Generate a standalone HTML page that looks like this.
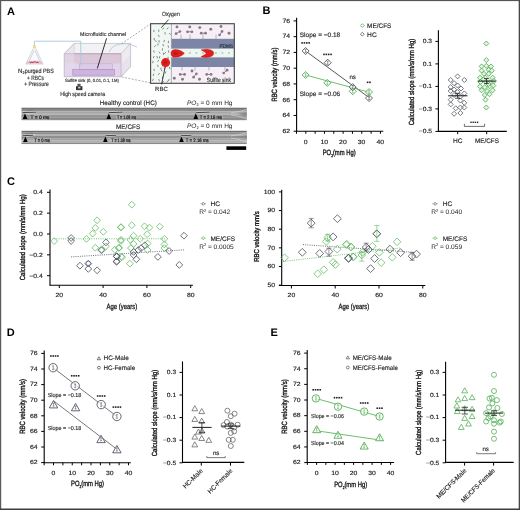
<!DOCTYPE html>
<html><head><meta charset="utf-8"><title>Figure</title>
<style>html,body{margin:0;padding:0;background:#fff;width:520px;height:510px;overflow:hidden}
svg{display:block;font-family:"Liberation Sans", sans-serif;filter:blur(0.4px);text-rendering:geometricPrecision}
svg.ov{position:absolute;left:0;top:0;filter:none}
body{position:relative}</style></head>
<body>
<svg width="520" height="510" viewBox="0 0 520 510" font-family='"Liberation Sans", sans-serif'>
<rect x="0" y="0" width="520" height="510" fill="#fff"/>
<text x="7.00" y="14.56" font-size="11" text-anchor="start" fill="#000" font-weight="bold" >A</text>
<path d="M33.2 49 L25.8 64.3 L43.1 64.3 L35.8 49 Z" fill="#fbfafc" stroke="none"/>
<path d="M27.2 61.2 Q34.4 59.6 41.6 61.2 L43.1 64.4 L25.8 64.4 Z" fill="#f2ccd6"/>
<path d="M29.8 63 q1.6 -1.6 3.2 -0.4 q1.6 -1.6 3.2 -0.2 q1.2 -0.8 2.4 0.4" fill="none" stroke="#b5506c" stroke-width="1.1"/>
<path d="M33.2 48.6 L25.8 64.4 M35.8 48.6 L43.1 64.4 M34.0 50.5 L28.2 63.6 M35.0 50.5 L40.8 63.6" fill="none" stroke="#a9b3c2" stroke-width="0.55"/>
<rect x="32.9" y="45.4" width="3.0" height="3.0" rx="0.6" fill="#f2d48a"/>
<text x="18.10" y="73.23" font-size="6.2" text-anchor="start" fill="#2a2a2a" stroke="#2a2a2a" stroke-width="0.13" >N</text>
<text x="22.40" y="74.17" font-size="3.8" text-anchor="start" fill="#2a2a2a" stroke="#2a2a2a" stroke-width="0.13" >2</text>
<text x="24.80" y="73.23" font-size="6.2" text-anchor="start" fill="#2a2a2a" stroke="#2a2a2a" stroke-width="0.13" textLength="29.0" lengthAdjust="spacingAndGlyphs" >purged PBS</text>
<text x="27.10" y="79.73" font-size="6.2" text-anchor="start" fill="#2a2a2a" stroke="#2a2a2a" stroke-width="0.13" textLength="16.9" lengthAdjust="spacingAndGlyphs" >+ RBCs</text>
<text x="24.20" y="85.83" font-size="6.2" text-anchor="start" fill="#2a2a2a" stroke="#2a2a2a" stroke-width="0.13" textLength="24.5" lengthAdjust="spacingAndGlyphs" >+ Pressure</text>
<path d="M64.2 53.7 L74.3 43.4 L130.6 43.4 L121.1 53.7 Z" fill="#f2f2f4"/>
<path d="M121.1 53.7 L130.6 43.4 L130.6 66.7 L121.1 76.8 Z" fill="#efeaf2"/>
<path d="M121.1 64 L130.6 55 L130.6 66.7 L121.1 76.8 Z" fill="#e9e1ee"/>
<rect x="64.2" y="53.7" width="56.9" height="23.1" fill="#dcc6da"/>
<rect x="64.2" y="63.5" width="56.9" height="13.3" fill="#e2d4ea"/>
<path d="M64.2 53.7 L74.3 43.4 L74.3 66.7 L64.2 76.8 Z" fill="#e6dcea" fill-opacity="0.6"/>
<rect x="79.3" y="63.8" width="33" height="5.8" fill="#dccbe6" stroke="#b9a0cc" stroke-width="0.5"/>
<rect x="72.8" y="69.6" width="41.6" height="5.6" fill="#cdb3de" stroke="#a98cc0" stroke-width="0.6"/>
<path d="M64.2 53.7 L74.3 43.4 L74.3 53.7" fill="none" stroke="#c8c8d0" stroke-width="0.5"/>
<path d="M64.2 53.7 L74.3 43.4 L130.6 43.4 L121.1 53.7 Z M121.1 53.7 L121.1 76.8 L130.6 66.7 L130.6 43.4 M64.2 53.7 L64.2 76.8 L121.1 76.8" fill="none" stroke="#aeaeb8" stroke-width="0.6"/>
<line x1="74.30" y1="53.70" x2="121.10" y2="53.70" stroke="#b79fb4" stroke-width="0.8" />
<path d="M34.4 46 L34.4 41.2 L80.8 41.2 L80.8 65.5" fill="none" stroke="#a6c8da" stroke-width="0.9"/>
<path d="M109.4 52 Q111 45.5 121 43.8 Q128 43.2 131 44.6 Q134 45.8 137 47" fill="none" stroke="#b3cbd8" stroke-width="0.9"/>
<line x1="106.60" y1="38.30" x2="97.30" y2="68.40" stroke="#1a1a1a" stroke-width="0.9" />
<text x="80.10" y="35.78" font-size="5.5" text-anchor="start" fill="#2a2a2a" stroke="#2a2a2a" stroke-width="0.13" textLength="46.0" lengthAdjust="spacingAndGlyphs" >Microfluidic channel</text>
<text x="65.00" y="82.12" font-size="4.5" text-anchor="start" fill="#2a2a2a" stroke="#2a2a2a" stroke-width="0.13" textLength="53.9" lengthAdjust="spacingAndGlyphs" >Sulfite sink (0, 0.01, 0.1, 1M)</text>
<rect x="76.0" y="86.2" width="6.4" height="3.9" fill="#333"/><rect x="77.4" y="83.8" width="3.2" height="2.6" fill="#555"/><rect x="78.2" y="86.9" width="2.2" height="1.6" fill="#ccc"/>
<text x="60.30" y="96.16" font-size="6.0" text-anchor="start" fill="#2a2a2a" stroke="#2a2a2a" stroke-width="0.13" textLength="44.7" lengthAdjust="spacingAndGlyphs" >High speed camera</text>
<line x1="121.60" y1="43.80" x2="150.30" y2="24.00" stroke="#777" stroke-width="0.65" stroke-dasharray="1.8 1.6"/>
<line x1="121.80" y1="77.00" x2="150.30" y2="82.80" stroke="#777" stroke-width="0.65" stroke-dasharray="1.8 1.6"/>
<rect x="150.6" y="23.7" width="83.7" height="59.6" fill="#f6eff6"/>
<rect x="150.6" y="23.7" width="20.8" height="59.6" fill="#f1f8f4"/>
<rect x="171.4" y="38.8" width="62.9" height="10.0" fill="#7c85a5"/>
<rect x="171.4" y="57.2" width="62.9" height="9.8" fill="#7c85a5"/>
<rect x="166.5" y="48.8" width="67.8" height="8.4" fill="#eef6f1"/>
<line x1="171.40" y1="23.70" x2="171.40" y2="48.80" stroke="#8e939c" stroke-width="0.7" />
<line x1="171.40" y1="57.20" x2="171.40" y2="83.30" stroke="#8e939c" stroke-width="0.7" />
<path d="M158.3 34.8 l0.97 2.08" stroke="#7d8c85" stroke-width="1.0"/>
<path d="M154.2 56.0 l-0.97 2.08" stroke="#7d8c85" stroke-width="1.0"/>
<path d="M162.6 76.5 l-0.20 2.29" stroke="#7d8c85" stroke-width="1.0"/>
<path d="M153.6 50.4 l0.60 2.22" stroke="#7d8c85" stroke-width="1.0"/>
<path d="M168.6 61.2 l0.97 2.08" stroke="#7d8c85" stroke-width="1.0"/>
<path d="M162.5 48.3 l-0.20 2.29" stroke="#7d8c85" stroke-width="1.0"/>
<path d="M153.8 73.7 l-0.60 2.22" stroke="#7d8c85" stroke-width="1.0"/>
<path d="M159.9 56.2 l-0.60 2.22" stroke="#7d8c85" stroke-width="1.0"/>
<path d="M162.2 64.0 l0.60 2.22" stroke="#7d8c85" stroke-width="1.0"/>
<path d="M154.0 29.8 l-0.20 2.29" stroke="#7d8c85" stroke-width="1.0"/>
<path d="M165.8 52.1 l-1.48 1.76" stroke="#7d8c85" stroke-width="1.0"/>
<path d="M159.0 40.2 l0.20 2.29" stroke="#7d8c85" stroke-width="1.0"/>
<path d="M164.5 39.9 l-0.60 2.22" stroke="#7d8c85" stroke-width="1.0"/>
<path d="M169.2 33.0 l1.48 1.76" stroke="#7d8c85" stroke-width="1.0"/>
<path d="M155.7 45.3 l-1.48 1.76" stroke="#7d8c85" stroke-width="1.0"/>
<path d="M166.0 71.5 l-0.97 2.08" stroke="#7d8c85" stroke-width="1.0"/>
<path d="M164.5 59.2 l-1.48 1.76" stroke="#7d8c85" stroke-width="1.0"/>
<path d="M157.5 64.8 l0.60 2.22" stroke="#7d8c85" stroke-width="1.0"/>
<path d="M163.7 81.1 l-1.48 1.76" stroke="#7d8c85" stroke-width="1.0"/>
<path d="M164.0 27.7 l-1.48 1.76" stroke="#7d8c85" stroke-width="1.0"/>
<path d="M158.9 60.1 l-1.48 1.76" stroke="#7d8c85" stroke-width="1.0"/>
<path d="M154.0 68.8 l0.20 2.29" stroke="#7d8c85" stroke-width="1.0"/>
<path d="M163.1 44.0 l0.20 2.29" stroke="#7d8c85" stroke-width="1.0"/>
<path d="M154.1 38.0 l0.20 2.29" stroke="#7d8c85" stroke-width="1.0"/>
<path d="M165.4 67.2 l-1.48 1.76" stroke="#7d8c85" stroke-width="1.0"/>
<path d="M153.4 78.8 l-0.97 2.08" stroke="#7d8c85" stroke-width="1.0"/>
<path d="M169.3 79.0 l-0.97 2.08" stroke="#7d8c85" stroke-width="1.0"/>
<path d="M168.0 45.4 l0.60 2.22" stroke="#7d8c85" stroke-width="1.0"/>
<path d="M165.0 32.2 l0.20 2.29" stroke="#7d8c85" stroke-width="1.0"/>
<path d="M158.8 51.7 l1.48 1.76" stroke="#7d8c85" stroke-width="1.0"/>
<path d="M161.0 69.2 l0.97 2.08" stroke="#7d8c85" stroke-width="1.0"/>
<path d="M168.5 40.8 l-0.20 2.29" stroke="#7d8c85" stroke-width="1.0"/>
<path d="M158.1 43.3 l-0.20 2.29" stroke="#7d8c85" stroke-width="1.0"/>
<path d="M158.7 29.5 l0.20 2.29" stroke="#7d8c85" stroke-width="1.0"/>
<path d="M153.2 60.9 l-0.60 2.22" stroke="#7d8c85" stroke-width="1.0"/>
<path d="M161.7 67.5 l-1.48 1.76" stroke="#7d8c85" stroke-width="1.0"/>
<path d="M168.4 27.5 l-1.48 1.76" stroke="#7d8c85" stroke-width="1.0"/>
<path d="M168.0 56.8 l0.20 2.29" stroke="#7d8c85" stroke-width="1.0"/>
<path d="M155.1 40.3 l1.48 1.76" stroke="#7d8c85" stroke-width="1.0"/>
<path d="M158.8 79.1 l0.60 2.22" stroke="#7d8c85" stroke-width="1.0"/>
<path d="M156.9 56.1 l0.60 2.22" stroke="#7d8c85" stroke-width="1.0"/>
<path d="M168.5 50.4 l0.20 2.29" stroke="#7d8c85" stroke-width="1.0"/>
<path d="M159.7 73.0 l-1.48 1.76" stroke="#7d8c85" stroke-width="1.0"/>
<path d="M169.4 66.8 l0.60 2.22" stroke="#7d8c85" stroke-width="1.0"/>
<path d="M163.3 52.6 l0.20 2.29" stroke="#7d8c85" stroke-width="1.0"/>
<path d="M168.2 80.5 l-1.48 1.76" stroke="#7d8c85" stroke-width="1.0"/>
<path d="M176.0 53 l1.8 0" stroke="#72907e" stroke-width="0.75"/>
<path d="M182.5 53 l1.8 0" stroke="#72907e" stroke-width="0.75"/>
<path d="M189.0 53 l1.8 0" stroke="#72907e" stroke-width="0.75"/>
<path d="M195.5 53 l1.8 0" stroke="#72907e" stroke-width="0.75"/>
<path d="M202.0 53 l1.8 0" stroke="#72907e" stroke-width="0.75"/>
<path d="M208.5 53 l1.8 0" stroke="#72907e" stroke-width="0.75"/>
<path d="M215.0 53 l1.8 0" stroke="#72907e" stroke-width="0.75"/>
<path d="M221.5 53 l1.8 0" stroke="#72907e" stroke-width="0.75"/>
<path d="M228.0 53 l1.8 0" stroke="#72907e" stroke-width="0.75"/>
<circle cx="177" cy="26.9" r="1.45" fill="#8c7589"/>
<circle cx="189.8" cy="26.9" r="1.45" fill="#8c7589"/>
<circle cx="199.8" cy="27.6" r="1.45" fill="#8c7589"/>
<circle cx="210.8" cy="29.3" r="1.45" fill="#8c7589"/>
<circle cx="229" cy="33.3" r="1.45" fill="#8c7589"/>
<circle cx="221" cy="26.5" r="1.45" fill="#8c7589"/>
<path d="M176.09 33.70 L179.91 31.50" stroke="#8c7589" stroke-width="0.9"/><circle cx="176.09" cy="33.70" r="1.35" fill="#8c7589"/><circle cx="179.91" cy="31.50" r="1.35" fill="#8c7589"/>
<path d="M187.50 31.80 L191.90 31.80" stroke="#8c7589" stroke-width="0.9"/><circle cx="187.50" cy="31.80" r="1.35" fill="#8c7589"/><circle cx="191.90" cy="31.80" r="1.35" fill="#8c7589"/>
<path d="M201.20 33.20 L205.60 33.20" stroke="#8c7589" stroke-width="0.9"/><circle cx="201.20" cy="33.20" r="1.35" fill="#8c7589"/><circle cx="205.60" cy="33.20" r="1.35" fill="#8c7589"/>
<path d="M219.54 35.00 L222.06 31.40" stroke="#8c7589" stroke-width="0.9"/><circle cx="219.54" cy="35.00" r="1.35" fill="#8c7589"/><circle cx="222.06" cy="31.40" r="1.35" fill="#8c7589"/>
<circle cx="174.3" cy="78.2" r="1.45" fill="#8c7589"/>
<circle cx="182.5" cy="79.2" r="1.45" fill="#8c7589"/>
<circle cx="199.5" cy="79.2" r="1.45" fill="#8c7589"/>
<circle cx="192" cy="71" r="1.45" fill="#8c7589"/>
<path d="M180.20 74.40 L184.60 74.40" stroke="#8c7589" stroke-width="0.9"/><circle cx="180.20" cy="74.40" r="1.35" fill="#8c7589"/><circle cx="184.60" cy="74.40" r="1.35" fill="#8c7589"/>
<path d="M206.70 74.40 L211.10 74.40" stroke="#8c7589" stroke-width="0.9"/><circle cx="206.70" cy="74.40" r="1.35" fill="#8c7589"/><circle cx="211.10" cy="74.40" r="1.35" fill="#8c7589"/>
<path d="M223.71 73.01 L227.09 70.19" stroke="#8c7589" stroke-width="0.9"/><circle cx="223.71" cy="73.01" r="1.35" fill="#8c7589"/><circle cx="227.09" cy="70.19" r="1.35" fill="#8c7589"/>
<path d="M193.59 77.19 L196.41 73.81" stroke="#8c7589" stroke-width="0.9"/><circle cx="193.59" cy="77.19" r="1.35" fill="#8c7589"/><circle cx="196.41" cy="73.81" r="1.35" fill="#8c7589"/>
<path d="M181 34.5 l0 6" stroke="#8e8ea0" stroke-width="0.6"/>
<path d="M190 34.5 l0 6" stroke="#8e8ea0" stroke-width="0.6"/>
<path d="M203 34.5 l0 6" stroke="#8e8ea0" stroke-width="0.6"/>
<path d="M216 34.5 l0 6" stroke="#8e8ea0" stroke-width="0.6"/>
<path d="M182 64.5 l0 6" stroke="#8e8ea0" stroke-width="0.6"/>
<path d="M195 64.5 l0 6" stroke="#8e8ea0" stroke-width="0.6"/>
<path d="M209 64.5 l0 6" stroke="#8e8ea0" stroke-width="0.6"/>
<path d="M225 64.5 l0 6" stroke="#8e8ea0" stroke-width="0.6"/>
<rect x="150.6" y="23.7" width="83.7" height="59.6" fill="none" stroke="#444" stroke-width="1.1"/>
<path d="M174.5 49.6 C179 49.4 182 51.2 184.3 53.4 C182 55.6 179 57.4 174.5 57.2 C171.6 57 171 55 171 53.4 C171 51.6 171.8 49.8 174.5 49.6 Z" fill="#e11f1d" stroke="#b81212" stroke-width="0.4"/>
<ellipse cx="175.5" cy="53.4" rx="2.2" ry="1.8" fill="#c51616"/>
<path d="M201 49.9 C205 48.6 210 49 212.4 50.8 C214.2 52.3 214.2 54.3 212.4 55.8 C210 57.6 205 58 201 56.7 C203.4 55.6 205.4 54.5 206.2 53.3 C205.4 52.1 203.4 51 201 49.9 Z" fill="#e11f1d" stroke="#b81212" stroke-width="0.4"/>
<circle cx="165.6" cy="62.6" r="4.5" fill="#e11f1d"/>
<circle cx="165.3" cy="62.3" r="2.1" fill="#cc1717"/>
<line x1="165.20" y1="66.80" x2="161.60" y2="84.40" stroke="#111" stroke-width="0.8" />
<text x="161.40" y="90.76" font-size="6.0" text-anchor="middle" fill="#2a2a2a" stroke="#2a2a2a" stroke-width="0.13" >RBC</text>
<line x1="168.60" y1="19.60" x2="161.30" y2="27.70" stroke="#111" stroke-width="0.8" />
<text x="161.90" y="16.26" font-size="6.0" text-anchor="start" fill="#2a2a2a" stroke="#2a2a2a" stroke-width="0.13" textLength="17.9" lengthAdjust="spacingAndGlyphs" >Oxygen</text>
<text x="233.00" y="48.24" font-size="5.4" text-anchor="end" fill="#262b40" stroke="#262b40" stroke-width="0.13" textLength="13.6" lengthAdjust="spacingAndGlyphs" >PDMS</text>
<text x="231.00" y="81.56" font-size="6.0" text-anchor="end" fill="#2a2a2a" stroke="#2a2a2a" stroke-width="0.13" textLength="24.2" lengthAdjust="spacingAndGlyphs" >Sulfite sink</text>
<rect x="21.5" y="107.70" width="225.3" height="2.15" fill="#747474"/>
<rect x="21.5" y="109.80" width="225.3" height="1.65" fill="#8e8e8e"/>
<rect x="21.5" y="111.40" width="225.3" height="1.65" fill="#a6a6a6"/>
<rect x="21.5" y="113.00" width="225.3" height="1.75" fill="#b2b2b2"/>
<rect x="21.5" y="114.70" width="225.3" height="2.55" fill="#969696"/>
<rect x="21.5" y="117.20" width="225.3" height="2.05" fill="#8a8a8a"/>
<rect x="21.5" y="119.20" width="225.3" height="0.95" fill="#787878"/>
<path d="M22.5 119.2 Q24.5 111.5 36 111.5" fill="none" stroke="#d6d6d6" stroke-width="0.7"/>
<path d="M22.2 115.7 Q25 109.9 33 109.9" fill="none" stroke="#6a6a6a" stroke-width="0.6"/>
<path d="M246.8 109.5 Q239 111.9 231 112.7" fill="none" stroke="#d3d3d3" stroke-width="0.7"/>
<path d="M246.8 118.7 Q239 115.9 231 114.9" fill="none" stroke="#d3d3d3" stroke-width="0.7"/>
<path d="M246.8 112.2 L238 113.7 L246.8 115.7" fill="#8a8a8a"/>
<rect x="29.4" y="115.3" width="21.2" height="4.4" fill="#b4b4b4" opacity="0.55"/>
<path d="M25.0 113.3 L27.3 119.0 L22.7 119.0 Z" fill="#000"/>
<text x="30.40" y="119.36" font-size="4.9" text-anchor="start" fill="#151515" stroke="#151515" stroke-width="0.2" textLength="19.2" lengthAdjust="spacingAndGlyphs" >T = 0 ms</text>
<path d="M22.5 112.60000000000001 L36.0 112.2" fill="none" stroke="#d8d8d8" stroke-width="2.0"/>
<path d="M22.5 112.60000000000001 L36.0 112.2" fill="none" stroke="#383838" stroke-width="0.9"/>
<rect x="115.9" y="115.3" width="21.4" height="4.4" fill="#b4b4b4" opacity="0.55"/>
<path d="M108.8 113.3 L111.1 119.0 L106.5 119.0 Z" fill="#000"/>
<text x="116.90" y="119.36" font-size="4.9" text-anchor="start" fill="#151515" stroke="#151515" stroke-width="0.2" textLength="19.4" lengthAdjust="spacingAndGlyphs" >T = 1.08 ms</text>
<path d="M109.0 112.60000000000001 L122.5 112.2" fill="none" stroke="#d8d8d8" stroke-width="2.0"/>
<path d="M109.0 112.60000000000001 L122.5 112.2" fill="none" stroke="#383838" stroke-width="0.9"/>
<rect x="198.7" y="115.3" width="24.5" height="4.4" fill="#b4b4b4" opacity="0.55"/>
<path d="M195.8 113.3 L198.1 119.0 L193.5 119.0 Z" fill="#000"/>
<text x="199.70" y="119.36" font-size="4.9" text-anchor="start" fill="#151515" stroke="#151515" stroke-width="0.2" textLength="22.5" lengthAdjust="spacingAndGlyphs" >T = 2.16 ms</text>
<path d="M196.2 112.60000000000001 L209.6 112.2" fill="none" stroke="#d8d8d8" stroke-width="2.0"/>
<path d="M196.2 112.60000000000001 L209.6 112.2" fill="none" stroke="#383838" stroke-width="0.9"/>
<rect x="21.5" y="130.80" width="225.3" height="1.65" fill="#6c6c6c"/>
<rect x="21.5" y="132.40" width="225.3" height="1.65" fill="#8c8c8c"/>
<rect x="21.5" y="134.00" width="225.3" height="1.75" fill="#b2b2b2"/>
<rect x="21.5" y="135.70" width="225.3" height="1.65" fill="#8e8e8e"/>
<rect x="21.5" y="137.30" width="225.3" height="1.25" fill="#747474"/>
<rect x="21.5" y="138.50" width="225.3" height="2.15" fill="#a2a2a2"/>
<rect x="21.5" y="140.60" width="225.3" height="2.05" fill="#b0b0b0"/>
<rect x="21.5" y="142.60" width="225.3" height="1.45" fill="#8a8a8a"/>
<path d="M22.5 142.3 Q24.5 134.60000000000002 36 134.60000000000002" fill="none" stroke="#d6d6d6" stroke-width="0.7"/>
<path d="M22.2 138.8 Q25 133.0 33 133.0" fill="none" stroke="#6a6a6a" stroke-width="0.6"/>
<path d="M246.8 132.60000000000002 Q239 135.0 231 135.8" fill="none" stroke="#d3d3d3" stroke-width="0.7"/>
<path d="M246.8 141.8 Q239 139.0 231 138.0" fill="none" stroke="#d3d3d3" stroke-width="0.7"/>
<path d="M246.8 135.3 L238 136.8 L246.8 138.8" fill="#8a8a8a"/>
<rect x="33.2" y="138.4" width="17.8" height="4.4" fill="#b4b4b4" opacity="0.55"/>
<path d="M25.4 136.4 L27.7 142.10000000000002 L23.1 142.10000000000002 Z" fill="#000"/>
<text x="34.20" y="142.46" font-size="4.9" text-anchor="start" fill="#151515" stroke="#151515" stroke-width="0.2" textLength="15.8" lengthAdjust="spacingAndGlyphs" >T = 0 ms</text>
<path d="M22.5 135.70000000000002 L33.0 135.3" fill="none" stroke="#d8d8d8" stroke-width="2.0"/>
<path d="M22.5 135.70000000000002 L33.0 135.3" fill="none" stroke="#383838" stroke-width="0.9"/>
<rect x="110.2" y="138.4" width="21.5" height="4.4" fill="#b4b4b4" opacity="0.55"/>
<path d="M105.4 136.4 L107.7 142.10000000000002 L103.1 142.10000000000002 Z" fill="#000"/>
<text x="111.20" y="142.46" font-size="4.9" text-anchor="start" fill="#151515" stroke="#151515" stroke-width="0.2" textLength="19.5" lengthAdjust="spacingAndGlyphs" >T = 1.08 ms</text>
<path d="M105.6 135.70000000000002 L116.0 135.3" fill="none" stroke="#d8d8d8" stroke-width="2.0"/>
<path d="M105.6 135.70000000000002 L116.0 135.3" fill="none" stroke="#383838" stroke-width="0.9"/>
<rect x="184.8" y="138.4" width="24.9" height="4.4" fill="#b4b4b4" opacity="0.55"/>
<path d="M181.5 136.4 L183.8 142.10000000000002 L179.2 142.10000000000002 Z" fill="#000"/>
<text x="185.80" y="142.46" font-size="4.9" text-anchor="start" fill="#151515" stroke="#151515" stroke-width="0.2" textLength="22.9" lengthAdjust="spacingAndGlyphs" >T = 2.16 ms</text>
<path d="M181.0 135.70000000000002 L191.4 135.3" fill="none" stroke="#d8d8d8" stroke-width="2.0"/>
<path d="M181.0 135.70000000000002 L191.4 135.3" fill="none" stroke="#383838" stroke-width="0.9"/>
<text x="99.80" y="104.68" font-size="6.6" text-anchor="start" fill="#1e1e1e" stroke="#1e1e1e" stroke-width="0.13" textLength="57.0" lengthAdjust="spacingAndGlyphs" >Healthy control (HC)</text>
<text x="116.00" y="128.78" font-size="6.6" text-anchor="start" fill="#1e1e1e" stroke="#1e1e1e" stroke-width="0.13" textLength="24.2" lengthAdjust="spacingAndGlyphs" >ME/CFS</text>
<text x="187.0" y="104.50" font-size="6.4" fill="#1e1e1e" textLength="45.5" lengthAdjust="spacingAndGlyphs"><tspan font-style="italic">PO</tspan><tspan font-size="3.8" dy="1.5">2</tspan><tspan dy="-1.5"> = 0 mm Hg</tspan></text>
<text x="187.0" y="127.80" font-size="6.4" fill="#1e1e1e" textLength="45.5" lengthAdjust="spacingAndGlyphs"><tspan font-style="italic">PO</tspan><tspan font-size="3.8" dy="1.5">2</tspan><tspan dy="-1.5"> = 0 mm Hg</tspan></text>
<rect x="226.4" y="146.3" width="19.8" height="3.6" fill="#000"/>
<text x="262.60" y="14.36" font-size="11" text-anchor="start" fill="#000" font-weight="bold" >B</text>
<line x1="296.60" y1="17.80" x2="296.60" y2="131.60" stroke="#000" stroke-width="1.1" />
<line x1="296.20" y1="131.20" x2="383.30" y2="131.20" stroke="#000" stroke-width="1.1" />
<line x1="293.60" y1="131.22" x2="296.60" y2="131.22" stroke="#000" stroke-width="1.0" />
<text x="290.00" y="133.02" font-size="6.1" text-anchor="end" fill="#222" stroke="#222" stroke-width="0.15" textLength="7.6" lengthAdjust="spacingAndGlyphs" >62</text>
<line x1="293.60" y1="115.46" x2="296.60" y2="115.46" stroke="#000" stroke-width="1.0" />
<text x="290.00" y="117.26" font-size="6.1" text-anchor="end" fill="#222" stroke="#222" stroke-width="0.15" textLength="7.6" lengthAdjust="spacingAndGlyphs" >64</text>
<line x1="293.60" y1="99.70" x2="296.60" y2="99.70" stroke="#000" stroke-width="1.0" />
<text x="290.00" y="101.50" font-size="6.1" text-anchor="end" fill="#222" stroke="#222" stroke-width="0.15" textLength="7.6" lengthAdjust="spacingAndGlyphs" >66</text>
<line x1="293.60" y1="83.94" x2="296.60" y2="83.94" stroke="#000" stroke-width="1.0" />
<text x="290.00" y="85.74" font-size="6.1" text-anchor="end" fill="#222" stroke="#222" stroke-width="0.15" textLength="7.6" lengthAdjust="spacingAndGlyphs" >68</text>
<line x1="293.60" y1="68.18" x2="296.60" y2="68.18" stroke="#000" stroke-width="1.0" />
<text x="290.00" y="69.98" font-size="6.1" text-anchor="end" fill="#222" stroke="#222" stroke-width="0.15" textLength="7.6" lengthAdjust="spacingAndGlyphs" >70</text>
<line x1="293.60" y1="52.42" x2="296.60" y2="52.42" stroke="#000" stroke-width="1.0" />
<text x="290.00" y="54.22" font-size="6.1" text-anchor="end" fill="#222" stroke="#222" stroke-width="0.15" textLength="7.6" lengthAdjust="spacingAndGlyphs" >72</text>
<line x1="293.60" y1="36.66" x2="296.60" y2="36.66" stroke="#000" stroke-width="1.0" />
<text x="290.00" y="38.46" font-size="6.1" text-anchor="end" fill="#222" stroke="#222" stroke-width="0.15" textLength="7.6" lengthAdjust="spacingAndGlyphs" >74</text>
<line x1="293.60" y1="20.90" x2="296.60" y2="20.90" stroke="#000" stroke-width="1.0" />
<text x="290.00" y="22.70" font-size="6.1" text-anchor="end" fill="#222" stroke="#222" stroke-width="0.15" textLength="7.6" lengthAdjust="spacingAndGlyphs" >76</text>
<line x1="296.47" y1="131.20" x2="296.47" y2="133.80" stroke="#000" stroke-width="1.0" />
<line x1="305.80" y1="131.20" x2="305.80" y2="133.80" stroke="#000" stroke-width="1.0" />
<line x1="315.13" y1="131.20" x2="315.13" y2="133.80" stroke="#000" stroke-width="1.0" />
<line x1="324.46" y1="131.20" x2="324.46" y2="133.80" stroke="#000" stroke-width="1.0" />
<line x1="333.79" y1="131.20" x2="333.79" y2="133.80" stroke="#000" stroke-width="1.0" />
<line x1="343.12" y1="131.20" x2="343.12" y2="133.80" stroke="#000" stroke-width="1.0" />
<line x1="352.45" y1="131.20" x2="352.45" y2="133.80" stroke="#000" stroke-width="1.0" />
<line x1="361.78" y1="131.20" x2="361.78" y2="133.80" stroke="#000" stroke-width="1.0" />
<line x1="371.11" y1="131.20" x2="371.11" y2="133.80" stroke="#000" stroke-width="1.0" />
<line x1="380.44" y1="131.20" x2="380.44" y2="133.80" stroke="#000" stroke-width="1.0" />
<text x="305.60" y="143.70" font-size="6.1" text-anchor="middle" fill="#222" stroke="#222" stroke-width="0.15" textLength="3.8" lengthAdjust="spacingAndGlyphs" >0</text>
<text x="324.26" y="143.70" font-size="6.1" text-anchor="middle" fill="#222" stroke="#222" stroke-width="0.15" textLength="7.6" lengthAdjust="spacingAndGlyphs" >10</text>
<text x="342.92" y="143.70" font-size="6.1" text-anchor="middle" fill="#222" stroke="#222" stroke-width="0.15" textLength="7.6" lengthAdjust="spacingAndGlyphs" >20</text>
<text x="361.58" y="143.70" font-size="6.1" text-anchor="middle" fill="#222" stroke="#222" stroke-width="0.15" textLength="7.6" lengthAdjust="spacingAndGlyphs" >30</text>
<text x="380.24" y="143.70" font-size="6.1" text-anchor="middle" fill="#222" stroke="#222" stroke-width="0.15" textLength="7.6" lengthAdjust="spacingAndGlyphs" >40</text>
<text x="322.7" y="155.2" font-size="7.6" fill="#111" stroke="#111" stroke-width="0.32" textLength="32.9" lengthAdjust="spacingAndGlyphs">PO<tspan font-size="4.18" dy="1.90">2</tspan><tspan dy="-1.90">(mm Hg)</tspan></text>
<text x="274.40" y="77.34" font-size="7.6" text-anchor="middle" fill="#111" stroke="#111" stroke-width="0.32" textLength="54" lengthAdjust="spacingAndGlyphs" transform="rotate(-90 274.40 74.60)" >RBC velocity (mm/s)</text>
<line x1="305.60" y1="51.00" x2="370.50" y2="98.60" stroke="#3a3a3a" stroke-width="0.85" />
<line x1="305.60" y1="75.00" x2="370.50" y2="92.60" stroke="#5cb85c" stroke-width="0.9" />
<path d="M305.6 71.5L309.1 75.0L305.6 78.5L302.1 75.0Z" fill="#fff" fill-opacity="0.6" stroke="#3fa33f" stroke-width="0.8"/>
<line x1="305.60" y1="73.40" x2="305.60" y2="76.60" stroke="#3fa33f" stroke-width="0.5" />
<line x1="304.60" y1="73.40" x2="306.60" y2="73.40" stroke="#3fa33f" stroke-width="0.5" />
<line x1="304.60" y1="76.60" x2="306.60" y2="76.60" stroke="#3fa33f" stroke-width="0.5" />
<path d="M327.3 79.4L330.8 82.9L327.3 86.4L323.8 82.9Z" fill="#fff" fill-opacity="0.6" stroke="#3fa33f" stroke-width="0.8"/>
<line x1="327.30" y1="81.30" x2="327.30" y2="84.50" stroke="#3fa33f" stroke-width="0.5" />
<line x1="326.30" y1="81.30" x2="328.30" y2="81.30" stroke="#3fa33f" stroke-width="0.5" />
<line x1="326.30" y1="84.50" x2="328.30" y2="84.50" stroke="#3fa33f" stroke-width="0.5" />
<path d="M352.7 87.8L356.2 91.3L352.7 94.8L349.2 91.3Z" fill="#fff" fill-opacity="0.6" stroke="#3fa33f" stroke-width="0.8"/>
<line x1="352.70" y1="89.70" x2="352.70" y2="92.90" stroke="#3fa33f" stroke-width="0.5" />
<line x1="351.70" y1="89.70" x2="353.70" y2="89.70" stroke="#3fa33f" stroke-width="0.5" />
<line x1="351.70" y1="92.90" x2="353.70" y2="92.90" stroke="#3fa33f" stroke-width="0.5" />
<path d="M369.0 88.5L372.5 92.0L369.0 95.5L365.5 92.0Z" fill="#fff" fill-opacity="0.6" stroke="#3fa33f" stroke-width="0.8"/>
<line x1="369.00" y1="90.40" x2="369.00" y2="93.60" stroke="#3fa33f" stroke-width="0.5" />
<line x1="368.00" y1="90.40" x2="370.00" y2="90.40" stroke="#3fa33f" stroke-width="0.5" />
<line x1="368.00" y1="93.60" x2="370.00" y2="93.60" stroke="#3fa33f" stroke-width="0.5" />
<path d="M305.6 47.5L309.1 51.0L305.6 54.5L302.1 51.0Z" fill="#fff" fill-opacity="0.6" stroke="#3c4150" stroke-width="0.8"/>
<line x1="305.60" y1="49.40" x2="305.60" y2="52.60" stroke="#3c4150" stroke-width="0.5" />
<line x1="304.60" y1="49.40" x2="306.60" y2="49.40" stroke="#3c4150" stroke-width="0.5" />
<line x1="304.60" y1="52.60" x2="306.60" y2="52.60" stroke="#3c4150" stroke-width="0.5" />
<path d="M327.7 59.2L331.2 62.7L327.7 66.2L324.2 62.7Z" fill="#fff" fill-opacity="0.6" stroke="#3c4150" stroke-width="0.8"/>
<line x1="327.70" y1="61.10" x2="327.70" y2="64.30" stroke="#3c4150" stroke-width="0.5" />
<line x1="326.70" y1="61.10" x2="328.70" y2="61.10" stroke="#3c4150" stroke-width="0.5" />
<line x1="326.70" y1="64.30" x2="328.70" y2="64.30" stroke="#3c4150" stroke-width="0.5" />
<path d="M352.7 83.6L356.2 87.1L352.7 90.6L349.2 87.1Z" fill="#fff" fill-opacity="0.6" stroke="#3c4150" stroke-width="0.8"/>
<line x1="352.70" y1="85.50" x2="352.70" y2="88.70" stroke="#3c4150" stroke-width="0.5" />
<line x1="351.70" y1="85.50" x2="353.70" y2="85.50" stroke="#3c4150" stroke-width="0.5" />
<line x1="351.70" y1="88.70" x2="353.70" y2="88.70" stroke="#3c4150" stroke-width="0.5" />
<path d="M369.0 94.6L372.5 98.1L369.0 101.6L365.5 98.1Z" fill="#fff" fill-opacity="0.6" stroke="#3c4150" stroke-width="0.8"/>
<line x1="369.00" y1="96.50" x2="369.00" y2="99.70" stroke="#3c4150" stroke-width="0.5" />
<line x1="368.00" y1="96.50" x2="370.00" y2="96.50" stroke="#3c4150" stroke-width="0.5" />
<line x1="368.00" y1="99.70" x2="370.00" y2="99.70" stroke="#3c4150" stroke-width="0.5" />
<text x="299.80" y="36.50" font-size="6.4" text-anchor="start" fill="#222" stroke="#222" stroke-width="0.13" textLength="40.4" lengthAdjust="spacingAndGlyphs" >Slope = &#8722;0.18</text>
<text x="299.80" y="96.10" font-size="6.4" text-anchor="start" fill="#222" stroke="#222" stroke-width="0.13" textLength="40.4" lengthAdjust="spacingAndGlyphs" >Slope = &#8722;0.06</text>
<rect x="301.28" y="42.10" width="1.6" height="1.6" fill="#222"/>
<rect x="303.63" y="42.10" width="1.6" height="1.6" fill="#222"/>
<rect x="305.98" y="42.10" width="1.6" height="1.6" fill="#222"/>
<rect x="308.33" y="42.10" width="1.6" height="1.6" fill="#222"/>
<rect x="323.18" y="53.60" width="1.6" height="1.6" fill="#222"/>
<rect x="325.53" y="53.60" width="1.6" height="1.6" fill="#222"/>
<rect x="327.88" y="53.60" width="1.6" height="1.6" fill="#222"/>
<rect x="330.23" y="53.60" width="1.6" height="1.6" fill="#222"/>
<text x="352.70" y="79.43" font-size="6.2" text-anchor="middle" fill="#222" stroke="#222" stroke-width="0.13" >ns</text>
<rect x="366.82" y="81.50" width="1.6" height="1.6" fill="#222"/>
<rect x="369.18" y="81.50" width="1.6" height="1.6" fill="#222"/>
<path d="M362.30 23.70L364.20 25.60L362.30 27.50L360.40 25.60Z" fill="none" stroke="#3fa33f" stroke-width="0.7"/>
<text x="367.10" y="27.98" font-size="6.6" text-anchor="start" fill="#222" stroke="#222" stroke-width="0.13" textLength="24.3" lengthAdjust="spacingAndGlyphs" >ME/CFS</text>
<path d="M362.30 32.30L364.20 34.20L362.30 36.10L360.40 34.20Z" fill="none" stroke="#3c4150" stroke-width="0.7"/>
<text x="367.10" y="36.58" font-size="6.6" text-anchor="start" fill="#222" stroke="#222" stroke-width="0.13" textLength="9.6" lengthAdjust="spacingAndGlyphs" >HC</text>
<line x1="438.40" y1="30.20" x2="438.40" y2="131.80" stroke="#000" stroke-width="1.1" />
<line x1="438.00" y1="131.40" x2="506.80" y2="131.40" stroke="#000" stroke-width="1.1" />
<line x1="435.40" y1="41.40" x2="438.40" y2="41.40" stroke="#000" stroke-width="1.0" />
<text x="432.10" y="43.16" font-size="6.0" text-anchor="end" fill="#222" stroke="#222" stroke-width="0.15" textLength="9.34" lengthAdjust="spacingAndGlyphs" >0.3</text>
<line x1="435.40" y1="63.90" x2="438.40" y2="63.90" stroke="#000" stroke-width="1.0" />
<text x="432.10" y="65.66" font-size="6.0" text-anchor="end" fill="#222" stroke="#222" stroke-width="0.15" textLength="9.34" lengthAdjust="spacingAndGlyphs" >0.1</text>
<line x1="435.40" y1="86.40" x2="438.40" y2="86.40" stroke="#000" stroke-width="1.0" />
<text x="432.10" y="88.16" font-size="6.0" text-anchor="end" fill="#222" stroke="#222" stroke-width="0.15" textLength="13.27" lengthAdjust="spacingAndGlyphs" >&#8722;0.1</text>
<line x1="435.40" y1="108.90" x2="438.40" y2="108.90" stroke="#000" stroke-width="1.0" />
<text x="432.10" y="110.66" font-size="6.0" text-anchor="end" fill="#222" stroke="#222" stroke-width="0.15" textLength="13.27" lengthAdjust="spacingAndGlyphs" >&#8722;0.3</text>
<line x1="435.40" y1="131.40" x2="438.40" y2="131.40" stroke="#000" stroke-width="1.0" />
<text x="432.10" y="133.16" font-size="6.0" text-anchor="end" fill="#222" stroke="#222" stroke-width="0.15" textLength="13.27" lengthAdjust="spacingAndGlyphs" >&#8722;0.5</text>
<line x1="457.70" y1="131.40" x2="457.70" y2="134.20" stroke="#000" stroke-width="1.0" />
<line x1="486.70" y1="131.40" x2="486.70" y2="134.20" stroke="#000" stroke-width="1.0" />
<text x="457.70" y="143.48" font-size="6.6" text-anchor="middle" fill="#222" stroke="#222" stroke-width="0.13" >HC</text>
<text x="486.90" y="143.28" font-size="6.6" text-anchor="middle" fill="#222" stroke="#222" stroke-width="0.13" textLength="24" lengthAdjust="spacingAndGlyphs" >ME/CFS</text>
<text x="411.30" y="84.66" font-size="7.4" text-anchor="middle" fill="#111" stroke="#111" stroke-width="0.32" textLength="86.7" lengthAdjust="spacingAndGlyphs" transform="rotate(-90 411.30 82.00)" >Calculated slope (mm/s/mm Hg)</text>
<path d="M457.60 73.90L460.10 76.40L457.60 78.90L455.10 76.40Z" fill="none" stroke="#4a4e5a" stroke-width="0.75"/>
<path d="M450.70 77.50L453.20 80.00L450.70 82.50L448.20 80.00Z" fill="none" stroke="#4a4e5a" stroke-width="0.75"/>
<path d="M464.30 77.50L466.80 80.00L464.30 82.50L461.80 80.00Z" fill="none" stroke="#4a4e5a" stroke-width="0.75"/>
<path d="M454.10 80.70L456.60 83.20L454.10 85.70L451.60 83.20Z" fill="none" stroke="#4a4e5a" stroke-width="0.75"/>
<path d="M457.60 83.00L460.10 85.50L457.60 88.00L455.10 85.50Z" fill="none" stroke="#4a4e5a" stroke-width="0.75"/>
<path d="M450.70 84.60L453.20 87.10L450.70 89.60L448.20 87.10Z" fill="none" stroke="#4a4e5a" stroke-width="0.75"/>
<path d="M454.10 87.00L456.60 89.50L454.10 92.00L451.60 89.50Z" fill="none" stroke="#4a4e5a" stroke-width="0.75"/>
<path d="M461.00 86.00L463.50 88.50L461.00 91.00L458.50 88.50Z" fill="none" stroke="#4a4e5a" stroke-width="0.75"/>
<path d="M450.70 88.50L453.20 91.00L450.70 93.50L448.20 91.00Z" fill="none" stroke="#4a4e5a" stroke-width="0.75"/>
<path d="M457.60 89.50L460.10 92.00L457.60 94.50L455.10 92.00Z" fill="none" stroke="#4a4e5a" stroke-width="0.75"/>
<path d="M464.30 90.90L466.80 93.40L464.30 95.90L461.80 93.40Z" fill="none" stroke="#4a4e5a" stroke-width="0.75"/>
<path d="M454.10 92.50L456.60 95.00L454.10 97.50L451.60 95.00Z" fill="none" stroke="#4a4e5a" stroke-width="0.75"/>
<path d="M460.40 94.00L462.90 96.50L460.40 99.00L457.90 96.50Z" fill="none" stroke="#4a4e5a" stroke-width="0.75"/>
<path d="M450.70 97.20L453.20 99.70L450.70 102.20L448.20 99.70Z" fill="none" stroke="#4a4e5a" stroke-width="0.75"/>
<path d="M460.40 98.00L462.90 100.50L460.40 103.00L457.90 100.50Z" fill="none" stroke="#4a4e5a" stroke-width="0.75"/>
<path d="M464.30 100.30L466.80 102.80L464.30 105.30L461.80 102.80Z" fill="none" stroke="#4a4e5a" stroke-width="0.75"/>
<path d="M450.70 101.90L453.20 104.40L450.70 106.90L448.20 104.40Z" fill="none" stroke="#4a4e5a" stroke-width="0.75"/>
<path d="M455.70 105.80L458.20 108.30L455.70 110.80L453.20 108.30Z" fill="none" stroke="#4a4e5a" stroke-width="0.75"/>
<path d="M460.40 105.00L462.90 107.50L460.40 110.00L457.90 107.50Z" fill="none" stroke="#4a4e5a" stroke-width="0.75"/>
<path d="M464.30 105.00L466.80 107.50L464.30 110.00L461.80 107.50Z" fill="none" stroke="#4a4e5a" stroke-width="0.75"/>
<path d="M454.10 111.30L456.60 113.80L454.10 116.30L451.60 113.80Z" fill="none" stroke="#4a4e5a" stroke-width="0.75"/>
<path d="M460.40 110.50L462.90 113.00L460.40 115.50L457.90 113.00Z" fill="none" stroke="#4a4e5a" stroke-width="0.75"/>
<line x1="448.20" y1="95.80" x2="467.50" y2="95.80" stroke="#111" stroke-width="1.0" />
<line x1="457.60" y1="93.30" x2="457.60" y2="98.30" stroke="#111" stroke-width="0.7" />
<line x1="455.00" y1="93.30" x2="460.20" y2="93.30" stroke="#111" stroke-width="0.7" />
<line x1="455.00" y1="98.30" x2="460.20" y2="98.30" stroke="#111" stroke-width="0.7" />
<path d="M486.30 41.00L488.80 43.50L486.30 46.00L483.80 43.50Z" fill="#e4f4e4" stroke="#3fa33f" stroke-width="0.75"/>
<path d="M486.30 57.60L488.80 60.10L486.30 62.60L483.80 60.10Z" fill="#e4f4e4" stroke="#3fa33f" stroke-width="0.75"/>
<path d="M481.60 63.90L484.10 66.40L481.60 68.90L479.10 66.40Z" fill="#e4f4e4" stroke="#3fa33f" stroke-width="0.75"/>
<path d="M486.30 63.40L488.80 65.90L486.30 68.40L483.80 65.90Z" fill="#e4f4e4" stroke="#3fa33f" stroke-width="0.75"/>
<path d="M491.00 63.90L493.50 66.40L491.00 68.90L488.50 66.40Z" fill="#e4f4e4" stroke="#3fa33f" stroke-width="0.75"/>
<path d="M481.60 68.10L484.10 70.60L481.60 73.10L479.10 70.60Z" fill="#e4f4e4" stroke="#3fa33f" stroke-width="0.75"/>
<path d="M488.70 67.30L491.20 69.80L488.70 72.30L486.20 69.80Z" fill="#e4f4e4" stroke="#3fa33f" stroke-width="0.75"/>
<path d="M491.80 68.10L494.30 70.60L491.80 73.10L489.30 70.60Z" fill="#e4f4e4" stroke="#3fa33f" stroke-width="0.75"/>
<path d="M484.00 71.30L486.50 73.80L484.00 76.30L481.50 73.80Z" fill="#e4f4e4" stroke="#3fa33f" stroke-width="0.75"/>
<path d="M488.70 71.30L491.20 73.80L488.70 76.30L486.20 73.80Z" fill="#e4f4e4" stroke="#3fa33f" stroke-width="0.75"/>
<path d="M480.00 75.20L482.50 77.70L480.00 80.20L477.50 77.70Z" fill="#e4f4e4" stroke="#3fa33f" stroke-width="0.75"/>
<path d="M485.50 75.20L488.00 77.70L485.50 80.20L483.00 77.70Z" fill="#e4f4e4" stroke="#3fa33f" stroke-width="0.75"/>
<path d="M492.60 75.20L495.10 77.70L492.60 80.20L490.10 77.70Z" fill="#e4f4e4" stroke="#3fa33f" stroke-width="0.75"/>
<path d="M480.50 79.50L483.00 82.00L480.50 84.50L478.00 82.00Z" fill="#e4f4e4" stroke="#3fa33f" stroke-width="0.75"/>
<path d="M485.50 79.00L488.00 81.50L485.50 84.00L483.00 81.50Z" fill="#e4f4e4" stroke="#3fa33f" stroke-width="0.75"/>
<path d="M490.00 79.70L492.50 82.20L490.00 84.70L487.50 82.20Z" fill="#e4f4e4" stroke="#3fa33f" stroke-width="0.75"/>
<path d="M494.00 78.50L496.50 81.00L494.00 83.50L491.50 81.00Z" fill="#e4f4e4" stroke="#3fa33f" stroke-width="0.75"/>
<path d="M480.00 83.80L482.50 86.30L480.00 88.80L477.50 86.30Z" fill="#e4f4e4" stroke="#3fa33f" stroke-width="0.75"/>
<path d="M484.80 84.60L487.30 87.10L484.80 89.60L482.30 87.10Z" fill="#e4f4e4" stroke="#3fa33f" stroke-width="0.75"/>
<path d="M489.50 83.80L492.00 86.30L489.50 88.80L487.00 86.30Z" fill="#e4f4e4" stroke="#3fa33f" stroke-width="0.75"/>
<path d="M493.40 83.00L495.90 85.50L493.40 88.00L490.90 85.50Z" fill="#e4f4e4" stroke="#3fa33f" stroke-width="0.75"/>
<path d="M481.60 87.80L484.10 90.30L481.60 92.80L479.10 90.30Z" fill="#e4f4e4" stroke="#3fa33f" stroke-width="0.75"/>
<path d="M487.10 88.50L489.60 91.00L487.10 93.50L484.60 91.00Z" fill="#e4f4e4" stroke="#3fa33f" stroke-width="0.75"/>
<path d="M492.60 87.80L495.10 90.30L492.60 92.80L490.10 90.30Z" fill="#e4f4e4" stroke="#3fa33f" stroke-width="0.75"/>
<path d="M484.80 92.50L487.30 95.00L484.80 97.50L482.30 95.00Z" fill="#e4f4e4" stroke="#3fa33f" stroke-width="0.75"/>
<path d="M489.50 91.70L492.00 94.20L489.50 96.70L487.00 94.20Z" fill="#e4f4e4" stroke="#3fa33f" stroke-width="0.75"/>
<path d="M485.50 97.20L488.00 99.70L485.50 102.20L483.00 99.70Z" fill="#e4f4e4" stroke="#3fa33f" stroke-width="0.75"/>
<path d="M486.30 105.00L488.80 107.50L486.30 110.00L483.80 107.50Z" fill="#e4f4e4" stroke="#3fa33f" stroke-width="0.75"/>
<path d="M483.50 77.00L486.00 79.50L483.50 82.00L481.00 79.50Z" fill="#e4f4e4" stroke="#3fa33f" stroke-width="0.75"/>
<path d="M488.50 81.50L491.00 84.00L488.50 86.50L486.00 84.00Z" fill="#e4f4e4" stroke="#3fa33f" stroke-width="0.75"/>
<line x1="477.70" y1="81.10" x2="495.80" y2="81.10" stroke="#111" stroke-width="1.0" />
<line x1="486.60" y1="78.60" x2="486.60" y2="83.60" stroke="#111" stroke-width="0.7" />
<line x1="484.00" y1="78.60" x2="489.20" y2="78.60" stroke="#111" stroke-width="0.7" />
<line x1="484.00" y1="83.60" x2="489.20" y2="83.60" stroke="#111" stroke-width="0.7" />
<path d="M464.4 123.8 L464.4 126.4 L484.6 126.4 L484.6 123.8" fill="none" stroke="#333" stroke-width="0.7"/>
<rect x="470.30" y="121.60" width="1.4" height="1.4" fill="#222"/>
<rect x="472.50" y="121.60" width="1.4" height="1.4" fill="#222"/>
<rect x="474.70" y="121.60" width="1.4" height="1.4" fill="#222"/>
<rect x="476.90" y="121.60" width="1.4" height="1.4" fill="#222"/>
<text x="6.90" y="185.46" font-size="11" text-anchor="start" fill="#000" font-weight="bold" >C</text>
<line x1="50.00" y1="189.60" x2="50.00" y2="285.60" stroke="#000" stroke-width="1.1" />
<line x1="49.60" y1="285.20" x2="192.90" y2="285.20" stroke="#000" stroke-width="1.1" />
<line x1="47.00" y1="192.30" x2="50.00" y2="192.30" stroke="#000" stroke-width="1.0" />
<text x="42.80" y="194.10" font-size="6.1" text-anchor="end" fill="#222" stroke="#222" stroke-width="0.15" textLength="9.5" lengthAdjust="spacingAndGlyphs" >0.4</text>
<line x1="47.00" y1="213.15" x2="50.00" y2="213.15" stroke="#000" stroke-width="1.0" />
<text x="42.80" y="214.95" font-size="6.1" text-anchor="end" fill="#222" stroke="#222" stroke-width="0.15" textLength="9.5" lengthAdjust="spacingAndGlyphs" >0.2</text>
<line x1="47.00" y1="234.00" x2="50.00" y2="234.00" stroke="#000" stroke-width="1.0" />
<text x="42.80" y="235.80" font-size="6.1" text-anchor="end" fill="#222" stroke="#222" stroke-width="0.15" textLength="9.5" lengthAdjust="spacingAndGlyphs" >0.0</text>
<line x1="47.00" y1="254.85" x2="50.00" y2="254.85" stroke="#000" stroke-width="1.0" />
<text x="42.80" y="256.65" font-size="6.1" text-anchor="end" fill="#222" stroke="#222" stroke-width="0.15" textLength="13.49" lengthAdjust="spacingAndGlyphs" >&#8722;0.2</text>
<line x1="47.00" y1="275.70" x2="50.00" y2="275.70" stroke="#000" stroke-width="1.0" />
<text x="42.80" y="277.50" font-size="6.1" text-anchor="end" fill="#222" stroke="#222" stroke-width="0.15" textLength="13.49" lengthAdjust="spacingAndGlyphs" >&#8722;0.4</text>
<line x1="59.30" y1="285.20" x2="59.30" y2="288.00" stroke="#000" stroke-width="1.0" />
<text x="59.30" y="297.20" font-size="6.1" text-anchor="middle" fill="#222" stroke="#222" stroke-width="0.15" textLength="7.6" lengthAdjust="spacingAndGlyphs" >20</text>
<line x1="103.10" y1="285.20" x2="103.10" y2="288.00" stroke="#000" stroke-width="1.0" />
<text x="103.10" y="297.20" font-size="6.1" text-anchor="middle" fill="#222" stroke="#222" stroke-width="0.15" textLength="7.6" lengthAdjust="spacingAndGlyphs" >40</text>
<line x1="146.90" y1="285.20" x2="146.90" y2="288.00" stroke="#000" stroke-width="1.0" />
<text x="146.90" y="297.20" font-size="6.1" text-anchor="middle" fill="#222" stroke="#222" stroke-width="0.15" textLength="7.6" lengthAdjust="spacingAndGlyphs" >60</text>
<line x1="190.70" y1="285.20" x2="190.70" y2="288.00" stroke="#000" stroke-width="1.0" />
<text x="190.70" y="297.20" font-size="6.1" text-anchor="middle" fill="#222" stroke="#222" stroke-width="0.15" textLength="7.6" lengthAdjust="spacingAndGlyphs" >80</text>
<text x="121.85" y="309.34" font-size="7.6" text-anchor="middle" fill="#222" stroke="#222" stroke-width="0.32" textLength="30.7" lengthAdjust="spacingAndGlyphs" >Age (years)</text>
<text x="22.50" y="239.96" font-size="7.4" text-anchor="middle" fill="#111" stroke="#111" stroke-width="0.32" textLength="85.9" lengthAdjust="spacingAndGlyphs" transform="rotate(-90 22.50 237.30)" >Calculated slope (mm/s/mm Hg)</text>
<line x1="71.10" y1="256.90" x2="185.00" y2="249.80" stroke="#4a4e5a" stroke-width="0.8" stroke-dasharray="1 1.2"/>
<line x1="54.20" y1="238.80" x2="166.00" y2="238.80" stroke="#5cb85c" stroke-width="0.8" stroke-dasharray="1 1.2"/>
<path d="M54.20 237.70L57.60 241.10L54.20 244.50L50.80 241.10Z" fill="none" stroke="#5cb85c" stroke-width="0.75"/>
<path d="M86.50 235.50L89.90 238.90L86.50 242.30L83.10 238.90Z" fill="none" stroke="#5cb85c" stroke-width="0.75"/>
<path d="M92.70 230.20L96.10 233.60L92.70 237.00L89.30 233.60Z" fill="none" stroke="#5cb85c" stroke-width="0.75"/>
<path d="M95.30 224.50L98.70 227.90L95.30 231.30L91.90 227.90Z" fill="none" stroke="#5cb85c" stroke-width="0.75"/>
<path d="M97.10 216.90L100.50 220.30L97.10 223.70L93.70 220.30Z" fill="none" stroke="#5cb85c" stroke-width="0.75"/>
<path d="M103.30 228.40L106.70 231.80L103.30 235.20L99.90 231.80Z" fill="none" stroke="#5cb85c" stroke-width="0.75"/>
<path d="M120.90 224.00L124.30 227.40L120.90 230.80L117.50 227.40Z" fill="none" stroke="#5cb85c" stroke-width="0.75"/>
<path d="M95.30 244.30L98.70 247.70L95.30 251.10L91.90 247.70Z" fill="none" stroke="#5cb85c" stroke-width="0.75"/>
<path d="M101.50 246.00L104.90 249.40L101.50 252.80L98.10 249.40Z" fill="none" stroke="#5cb85c" stroke-width="0.75"/>
<path d="M105.90 242.90L109.30 246.30L105.90 249.70L102.50 246.30Z" fill="none" stroke="#5cb85c" stroke-width="0.75"/>
<path d="M114.80 246.40L118.20 249.80L114.80 253.20L111.40 249.80Z" fill="none" stroke="#5cb85c" stroke-width="0.75"/>
<path d="M119.20 244.30L122.60 247.70L119.20 251.10L115.80 247.70Z" fill="none" stroke="#5cb85c" stroke-width="0.75"/>
<path d="M120.90 237.60L124.30 241.00L120.90 244.40L117.50 241.00Z" fill="none" stroke="#5cb85c" stroke-width="0.75"/>
<path d="M121.80 254.00L125.20 257.40L121.80 260.80L118.40 257.40Z" fill="none" stroke="#5cb85c" stroke-width="0.75"/>
<path d="M131.80 201.30L135.20 204.70L131.80 208.10L128.40 204.70Z" fill="none" stroke="#5cb85c" stroke-width="0.75"/>
<path d="M121.00 223.70L124.40 227.10L121.00 230.50L117.60 227.10Z" fill="none" stroke="#5cb85c" stroke-width="0.75"/>
<path d="M131.80 221.80L135.20 225.20L131.80 228.60L128.40 225.20Z" fill="none" stroke="#5cb85c" stroke-width="0.75"/>
<path d="M144.50 222.90L147.90 226.30L144.50 229.70L141.10 226.30Z" fill="none" stroke="#5cb85c" stroke-width="0.75"/>
<path d="M149.50 224.20L152.90 227.60L149.50 231.00L146.10 227.60Z" fill="none" stroke="#5cb85c" stroke-width="0.75"/>
<path d="M159.80 223.30L163.20 226.70L159.80 230.10L156.40 226.70Z" fill="none" stroke="#5cb85c" stroke-width="0.75"/>
<path d="M133.60 232.30L137.00 235.70L133.60 239.10L130.20 235.70Z" fill="none" stroke="#5cb85c" stroke-width="0.75"/>
<path d="M147.10 230.80L150.50 234.20L147.10 237.60L143.70 234.20Z" fill="none" stroke="#5cb85c" stroke-width="0.75"/>
<path d="M121.00 236.40L124.40 239.80L121.00 243.20L117.60 239.80Z" fill="none" stroke="#5cb85c" stroke-width="0.75"/>
<path d="M130.30 236.40L133.70 239.80L130.30 243.20L126.90 239.80Z" fill="none" stroke="#5cb85c" stroke-width="0.75"/>
<path d="M140.20 235.40L143.60 238.80L140.20 242.20L136.80 238.80Z" fill="none" stroke="#5cb85c" stroke-width="0.75"/>
<path d="M164.40 235.40L167.80 238.80L164.40 242.20L161.00 238.80Z" fill="none" stroke="#5cb85c" stroke-width="0.75"/>
<path d="M164.40 241.00L167.80 244.40L164.40 247.80L161.00 244.40Z" fill="none" stroke="#5cb85c" stroke-width="0.75"/>
<path d="M133.60 240.50L137.00 243.90L133.60 247.30L130.20 243.90Z" fill="none" stroke="#5cb85c" stroke-width="0.75"/>
<path d="M147.60 240.10L151.00 243.50L147.60 246.90L144.20 243.50Z" fill="none" stroke="#5cb85c" stroke-width="0.75"/>
<path d="M118.70 244.70L122.10 248.10L118.70 251.50L115.30 248.10Z" fill="none" stroke="#5cb85c" stroke-width="0.75"/>
<path d="M130.90 244.70L134.30 248.10L130.90 251.50L127.50 248.10Z" fill="none" stroke="#5cb85c" stroke-width="0.75"/>
<path d="M147.60 246.60L151.00 250.00L147.60 253.40L144.20 250.00Z" fill="none" stroke="#5cb85c" stroke-width="0.75"/>
<path d="M164.40 244.70L167.80 248.10L164.40 251.50L161.00 248.10Z" fill="none" stroke="#5cb85c" stroke-width="0.75"/>
<path d="M121.50 253.10L124.90 256.50L121.50 259.90L118.10 256.50Z" fill="none" stroke="#5cb85c" stroke-width="0.75"/>
<path d="M129.90 260.20L133.30 263.60L129.90 267.00L126.50 263.60Z" fill="none" stroke="#5cb85c" stroke-width="0.75"/>
<path d="M71.10 234.60L74.50 238.00L71.10 241.40L67.70 238.00Z" fill="none" stroke="#4a4e5a" stroke-width="0.8"/>
<path d="M71.10 237.60L74.50 241.00L71.10 244.40L67.70 241.00Z" fill="none" stroke="#4a4e5a" stroke-width="0.8"/>
<path d="M105.90 239.00L109.30 242.40L105.90 245.80L102.50 242.40Z" fill="none" stroke="#4a4e5a" stroke-width="0.8"/>
<path d="M101.50 246.90L104.90 250.30L101.50 253.70L98.10 250.30Z" fill="none" stroke="#4a4e5a" stroke-width="0.8"/>
<path d="M116.50 252.80L119.90 256.20L116.50 259.60L113.10 256.20Z" fill="none" stroke="#4a4e5a" stroke-width="0.8"/>
<path d="M116.50 258.40L119.90 261.80L116.50 265.20L113.10 261.80Z" fill="none" stroke="#4a4e5a" stroke-width="0.8"/>
<path d="M80.00 262.30L83.40 265.70L80.00 269.10L76.60 265.70Z" fill="none" stroke="#4a4e5a" stroke-width="0.8"/>
<path d="M88.30 260.20L91.70 263.60L88.30 267.00L84.90 263.60Z" fill="none" stroke="#4a4e5a" stroke-width="0.8"/>
<path d="M88.30 265.50L91.70 268.90L88.30 272.30L84.90 268.90Z" fill="none" stroke="#4a4e5a" stroke-width="0.8"/>
<path d="M97.10 266.90L100.50 270.30L97.10 273.70L93.70 270.30Z" fill="none" stroke="#4a4e5a" stroke-width="0.8"/>
<path d="M184.00 232.30L187.40 235.70L184.00 239.10L180.60 235.70Z" fill="none" stroke="#4a4e5a" stroke-width="0.8"/>
<path d="M144.80 241.90L148.20 245.30L144.80 248.70L141.40 245.30Z" fill="none" stroke="#4a4e5a" stroke-width="0.8"/>
<path d="M141.10 244.70L144.50 248.10L141.10 251.50L137.70 248.10Z" fill="none" stroke="#4a4e5a" stroke-width="0.8"/>
<path d="M138.30 246.60L141.70 250.00L138.30 253.40L134.90 250.00Z" fill="none" stroke="#4a4e5a" stroke-width="0.8"/>
<path d="M133.60 248.50L137.00 251.90L133.60 255.30L130.20 251.90Z" fill="none" stroke="#4a4e5a" stroke-width="0.8"/>
<path d="M133.60 251.60L137.00 255.00L133.60 258.40L130.20 255.00Z" fill="none" stroke="#4a4e5a" stroke-width="0.8"/>
<path d="M169.10 247.60L172.50 251.00L169.10 254.40L165.70 251.00Z" fill="none" stroke="#4a4e5a" stroke-width="0.8"/>
<path d="M157.90 253.50L161.30 256.90L157.90 260.30L154.50 256.90Z" fill="none" stroke="#4a4e5a" stroke-width="0.8"/>
<path d="M136.40 255.90L139.80 259.30L136.40 262.70L133.00 259.30Z" fill="none" stroke="#4a4e5a" stroke-width="0.8"/>
<path d="M179.30 261.50L182.70 264.90L179.30 268.30L175.90 264.90Z" fill="none" stroke="#4a4e5a" stroke-width="0.8"/>
<path d="M116.90 253.10L120.30 256.50L116.90 259.90L113.50 256.50Z" fill="none" stroke="#4a4e5a" stroke-width="0.8"/>
<path d="M116.90 257.80L120.30 261.20L116.90 264.60L113.50 261.20Z" fill="none" stroke="#4a4e5a" stroke-width="0.8"/>
<circle cx="88.30" cy="263.40" r="2.2" fill="none" stroke="#5a6aa0" stroke-width="0.8"/>
<line x1="200.60" y1="203.80" x2="206.00" y2="203.80" stroke="#4a4e5a" stroke-width="0.6" stroke-dasharray="0.8 0.8"/>
<path d="M203.30 202.20L204.90 203.80L203.30 205.40L201.70 203.80Z" fill="none" stroke="#4a4e5a" stroke-width="0.6"/>
<text x="210.40" y="206.18" font-size="6.6" text-anchor="start" fill="#222" stroke="#222" stroke-width="0.13" >HC</text>
<text x="199.2" y="214.4" font-size="6.6" fill="#222">R<tspan font-size="3.8" dy="-2.2">2</tspan><tspan dy="2.2"> = 0.042</tspan></text>
<line x1="200.60" y1="238.20" x2="206.00" y2="238.20" stroke="#5cb85c" stroke-width="0.6" stroke-dasharray="0.8 0.8"/>
<path d="M203.30 236.60L204.90 238.20L203.30 239.80L201.70 238.20Z" fill="none" stroke="#3fa33f" stroke-width="0.6"/>
<text x="210.40" y="240.58" font-size="6.6" text-anchor="start" fill="#222" stroke="#222" stroke-width="0.13" textLength="24.6" lengthAdjust="spacingAndGlyphs" >ME/CFS</text>
<text x="199.2" y="248.6" font-size="6.6" fill="#222">R<tspan font-size="3.8" dy="-2.2">2</tspan><tspan dy="2.2"> = 0.0005</tspan></text>
<line x1="281.70" y1="189.70" x2="281.70" y2="285.90" stroke="#000" stroke-width="1.1" />
<line x1="278.90" y1="285.50" x2="425.30" y2="285.50" stroke="#000" stroke-width="1.1" />
<line x1="278.90" y1="191.90" x2="281.70" y2="191.90" stroke="#000" stroke-width="1.0" />
<text x="275.10" y="193.70" font-size="6.1" text-anchor="end" fill="#222" stroke="#222" stroke-width="0.15" textLength="11.4" lengthAdjust="spacingAndGlyphs" >100</text>
<line x1="278.90" y1="210.55" x2="281.70" y2="210.55" stroke="#000" stroke-width="1.0" />
<text x="275.10" y="212.35" font-size="6.1" text-anchor="end" fill="#222" stroke="#222" stroke-width="0.15" textLength="7.6" lengthAdjust="spacingAndGlyphs" >90</text>
<line x1="278.90" y1="229.20" x2="281.70" y2="229.20" stroke="#000" stroke-width="1.0" />
<text x="275.10" y="231.00" font-size="6.1" text-anchor="end" fill="#222" stroke="#222" stroke-width="0.15" textLength="7.6" lengthAdjust="spacingAndGlyphs" >80</text>
<line x1="278.90" y1="247.85" x2="281.70" y2="247.85" stroke="#000" stroke-width="1.0" />
<text x="275.10" y="249.65" font-size="6.1" text-anchor="end" fill="#222" stroke="#222" stroke-width="0.15" textLength="7.6" lengthAdjust="spacingAndGlyphs" >70</text>
<line x1="278.90" y1="266.50" x2="281.70" y2="266.50" stroke="#000" stroke-width="1.0" />
<text x="275.10" y="268.30" font-size="6.1" text-anchor="end" fill="#222" stroke="#222" stroke-width="0.15" textLength="7.6" lengthAdjust="spacingAndGlyphs" >60</text>
<line x1="278.90" y1="285.15" x2="281.70" y2="285.15" stroke="#000" stroke-width="1.0" />
<text x="275.10" y="286.95" font-size="6.1" text-anchor="end" fill="#222" stroke="#222" stroke-width="0.15" textLength="7.6" lengthAdjust="spacingAndGlyphs" >50</text>
<line x1="291.40" y1="285.50" x2="291.40" y2="288.50" stroke="#000" stroke-width="1.0" />
<text x="291.40" y="297.20" font-size="6.1" text-anchor="middle" fill="#222" stroke="#222" stroke-width="0.15" textLength="7.6" lengthAdjust="spacingAndGlyphs" >20</text>
<line x1="335.20" y1="285.50" x2="335.20" y2="288.50" stroke="#000" stroke-width="1.0" />
<text x="335.20" y="297.20" font-size="6.1" text-anchor="middle" fill="#222" stroke="#222" stroke-width="0.15" textLength="7.6" lengthAdjust="spacingAndGlyphs" >40</text>
<line x1="379.00" y1="285.50" x2="379.00" y2="288.50" stroke="#000" stroke-width="1.0" />
<text x="379.00" y="297.20" font-size="6.1" text-anchor="middle" fill="#222" stroke="#222" stroke-width="0.15" textLength="7.6" lengthAdjust="spacingAndGlyphs" >60</text>
<line x1="422.80" y1="285.50" x2="422.80" y2="288.50" stroke="#000" stroke-width="1.0" />
<text x="422.80" y="297.20" font-size="6.1" text-anchor="middle" fill="#222" stroke="#222" stroke-width="0.15" textLength="7.6" lengthAdjust="spacingAndGlyphs" >80</text>
<text x="353.90" y="309.14" font-size="7.6" text-anchor="middle" fill="#222" stroke="#222" stroke-width="0.32" textLength="30.7" lengthAdjust="spacingAndGlyphs" >Age (years)</text>
<text x="256.20" y="239.19" font-size="7.2" text-anchor="middle" fill="#111" stroke="#111" stroke-width="0.32" textLength="50.5" lengthAdjust="spacingAndGlyphs" transform="rotate(-90 256.20 236.60)" >RBC velocity mm/s</text>
<line x1="303.00" y1="244.60" x2="414.70" y2="252.40" stroke="#4a4e5a" stroke-width="0.8" stroke-dasharray="1 1.2"/>
<line x1="283.00" y1="261.50" x2="400.00" y2="248.00" stroke="#5cb85c" stroke-width="0.8" stroke-dasharray="1 1.2"/>
<path d="M284.60 253.90L288.40 257.70L284.60 261.50L280.80 257.70Z" fill="none" stroke="#5cb85c" stroke-width="0.75"/>
<path d="M326.20 237.70L330.00 241.50L326.20 245.30L322.40 241.50Z" fill="none" stroke="#5cb85c" stroke-width="0.75"/>
<path d="M327.70 233.90L331.50 237.70L327.70 241.50L323.90 237.70Z" fill="none" stroke="#5cb85c" stroke-width="0.75"/>
<path d="M337.20 245.40L341.00 249.20L337.20 253.00L333.40 249.20Z" fill="none" stroke="#5cb85c" stroke-width="0.75"/>
<path d="M317.70 270.00L321.50 273.80L317.70 277.60L313.90 273.80Z" fill="none" stroke="#5cb85c" stroke-width="0.75"/>
<path d="M323.80 265.90L327.60 269.70L323.80 273.50L320.00 269.70Z" fill="none" stroke="#5cb85c" stroke-width="0.75"/>
<path d="M333.10 258.50L336.90 262.30L333.10 266.10L329.30 262.30Z" fill="none" stroke="#5cb85c" stroke-width="0.75"/>
<path d="M335.40 260.80L339.20 264.60L335.40 268.40L331.60 264.60Z" fill="none" stroke="#5cb85c" stroke-width="0.75"/>
<path d="M346.20 240.80L350.00 244.60L346.20 248.40L342.40 244.60Z" fill="none" stroke="#5cb85c" stroke-width="0.75"/>
<path d="M350.80 243.10L354.60 246.90L350.80 250.70L347.00 246.90Z" fill="none" stroke="#5cb85c" stroke-width="0.75"/>
<path d="M353.50 253.10L357.30 256.90L353.50 260.70L349.70 256.90Z" fill="none" stroke="#5cb85c" stroke-width="0.75"/>
<path d="M376.80 230.00L380.60 233.80L376.80 237.60L373.00 233.80Z" fill="none" stroke="#5cb85c" stroke-width="0.75"/>
<path d="M397.10 238.00L400.90 241.80L397.10 245.60L393.30 241.80Z" fill="none" stroke="#5cb85c" stroke-width="0.75"/>
<path d="M392.30 253.50L396.10 257.30L392.30 261.10L388.50 257.30Z" fill="none" stroke="#5cb85c" stroke-width="0.75"/>
<path d="M381.20 258.80L385.00 262.60L381.20 266.40L377.40 262.60Z" fill="none" stroke="#5cb85c" stroke-width="0.75"/>
<path d="M353.00 253.00L356.80 256.80L353.00 260.60L349.20 256.80Z" fill="none" stroke="#5cb85c" stroke-width="0.75"/>
<path d="M346.80 240.60L350.60 244.40L346.80 248.20L343.00 244.40Z" fill="none" stroke="#5cb85c" stroke-width="0.75"/>
<path d="M351.20 243.30L355.00 247.10L351.20 250.90L347.40 247.10Z" fill="none" stroke="#5cb85c" stroke-width="0.75"/>
<path d="M361.80 251.20L365.60 255.00L361.80 258.80L358.00 255.00Z" fill="none" stroke="#5cb85c" stroke-width="0.75"/>
<path d="M362.60 248.60L366.40 252.40L362.60 256.20L358.80 252.40Z" fill="none" stroke="#5cb85c" stroke-width="0.75"/>
<path d="M372.40 242.40L376.20 246.20L372.40 250.00L368.60 246.20Z" fill="none" stroke="#5cb85c" stroke-width="0.75"/>
<path d="M379.40 248.60L383.20 252.40L379.40 256.20L375.60 252.40Z" fill="none" stroke="#5cb85c" stroke-width="0.75"/>
<path d="M311.20 219.20L315.10 223.10L311.20 227.00L307.30 223.10Z" fill="none" stroke="#4a4e5a" stroke-width="0.8"/>
<path d="M302.30 248.40L306.20 252.30L302.30 256.20L298.40 252.30Z" fill="none" stroke="#4a4e5a" stroke-width="0.8"/>
<path d="M319.70 249.50L323.60 253.40L319.70 257.30L315.80 253.40Z" fill="none" stroke="#4a4e5a" stroke-width="0.8"/>
<path d="M328.90 247.60L332.80 251.50L328.90 255.40L325.00 251.50Z" fill="none" stroke="#4a4e5a" stroke-width="0.8"/>
<path d="M333.10 233.00L337.00 236.90L333.10 240.80L329.20 236.90Z" fill="none" stroke="#4a4e5a" stroke-width="0.8"/>
<path d="M348.50 254.60L352.40 258.50L348.50 262.40L344.60 258.50Z" fill="none" stroke="#4a4e5a" stroke-width="0.8"/>
<path d="M376.80 229.90L380.70 233.80L376.80 237.70L372.90 233.80Z" fill="none" stroke="#4a4e5a" stroke-width="0.8"/>
<path d="M390.00 245.30L393.90 249.20L390.00 253.10L386.10 249.20Z" fill="none" stroke="#4a4e5a" stroke-width="0.8"/>
<path d="M400.60 248.80L404.50 252.70L400.60 256.60L396.70 252.70Z" fill="none" stroke="#4a4e5a" stroke-width="0.8"/>
<path d="M412.10 252.30L416.00 256.20L412.10 260.10L408.20 256.20Z" fill="none" stroke="#4a4e5a" stroke-width="0.8"/>
<path d="M416.50 250.20L420.40 254.10L416.50 258.00L412.60 254.10Z" fill="none" stroke="#4a4e5a" stroke-width="0.8"/>
<path d="M374.60 254.60L378.50 258.50L374.60 262.40L370.70 258.50Z" fill="none" stroke="#4a4e5a" stroke-width="0.8"/>
<path d="M370.60 264.70L374.50 268.60L370.60 272.50L366.70 268.60Z" fill="none" stroke="#4a4e5a" stroke-width="0.8"/>
<path d="M348.50 254.10L352.40 258.00L348.50 261.90L344.60 258.00Z" fill="none" stroke="#4a4e5a" stroke-width="0.8"/>
<path d="M366.20 243.20L370.10 247.10L366.20 251.00L362.30 247.10Z" fill="none" stroke="#4a4e5a" stroke-width="0.8"/>
<path d="M368.50 245.60L372.40 249.50L368.50 253.40L364.60 249.50Z" fill="none" stroke="#4a4e5a" stroke-width="0.8"/>
<path d="M337.40 214.80L341.30 218.70L337.40 222.60L333.50 218.70Z" fill="none" stroke="#4a4e5a" stroke-width="0.8"/>
<line x1="311.20" y1="218.40" x2="311.20" y2="227.80" stroke="#555" stroke-width="0.6" />
<line x1="308.60" y1="218.40" x2="313.80" y2="218.40" stroke="#555" stroke-width="0.6" />
<line x1="308.60" y1="227.80" x2="313.80" y2="227.80" stroke="#555" stroke-width="0.6" />
<line x1="328.90" y1="248.20" x2="328.90" y2="256.20" stroke="#555" stroke-width="0.6" />
<line x1="326.30" y1="248.20" x2="331.50" y2="248.20" stroke="#555" stroke-width="0.6" />
<line x1="326.30" y1="256.20" x2="331.50" y2="256.20" stroke="#555" stroke-width="0.6" />
<line x1="327.70" y1="234.30" x2="327.70" y2="241.00" stroke="#5cb85c" stroke-width="0.6" />
<line x1="325.10" y1="234.30" x2="330.30" y2="234.30" stroke="#5cb85c" stroke-width="0.6" />
<line x1="325.10" y1="241.00" x2="330.30" y2="241.00" stroke="#5cb85c" stroke-width="0.6" />
<line x1="376.80" y1="225.50" x2="376.80" y2="241.40" stroke="#5cb85c" stroke-width="0.6" />
<line x1="374.20" y1="225.50" x2="379.40" y2="225.50" stroke="#5cb85c" stroke-width="0.6" />
<line x1="374.20" y1="241.40" x2="379.40" y2="241.40" stroke="#5cb85c" stroke-width="0.6" />
<line x1="412.10" y1="252.70" x2="412.10" y2="260.30" stroke="#555" stroke-width="0.6" />
<line x1="409.50" y1="252.70" x2="414.70" y2="252.70" stroke="#555" stroke-width="0.6" />
<line x1="409.50" y1="260.30" x2="414.70" y2="260.30" stroke="#555" stroke-width="0.6" />
<line x1="366.20" y1="243.20" x2="366.20" y2="251.00" stroke="#555" stroke-width="0.6" />
<line x1="363.60" y1="243.20" x2="368.80" y2="243.20" stroke="#555" stroke-width="0.6" />
<line x1="363.60" y1="251.00" x2="368.80" y2="251.00" stroke="#555" stroke-width="0.6" />
<line x1="361.80" y1="252.00" x2="361.80" y2="261.20" stroke="#5cb85c" stroke-width="0.6" />
<line x1="359.20" y1="252.00" x2="364.40" y2="252.00" stroke="#5cb85c" stroke-width="0.6" />
<line x1="359.20" y1="261.20" x2="364.40" y2="261.20" stroke="#5cb85c" stroke-width="0.6" />
<line x1="432.40" y1="203.80" x2="437.80" y2="203.80" stroke="#4a4e5a" stroke-width="0.6" stroke-dasharray="0.8 0.8"/>
<path d="M435.10 202.20L436.70 203.80L435.10 205.40L433.50 203.80Z" fill="none" stroke="#4a4e5a" stroke-width="0.6"/>
<text x="442.70" y="206.18" font-size="6.6" text-anchor="start" fill="#222" stroke="#222" stroke-width="0.13" >HC</text>
<text x="431.2" y="214.4" font-size="6.6" fill="#222">R<tspan font-size="3.8" dy="-2.2">2</tspan><tspan dy="2.2"> = 0.040</tspan></text>
<line x1="432.40" y1="238.20" x2="437.80" y2="238.20" stroke="#5cb85c" stroke-width="0.6" stroke-dasharray="0.8 0.8"/>
<path d="M435.10 236.60L436.70 238.20L435.10 239.80L433.50 238.20Z" fill="none" stroke="#3fa33f" stroke-width="0.6"/>
<text x="442.70" y="240.58" font-size="6.6" text-anchor="start" fill="#222" stroke="#222" stroke-width="0.13" textLength="24.6" lengthAdjust="spacingAndGlyphs" >ME/CFS</text>
<text x="431.2" y="248.6" font-size="6.6" fill="#222">R<tspan font-size="3.8" dy="-2.2">2</tspan><tspan dy="2.2"> = 0.059</tspan></text>
<text x="6.80" y="336.36" font-size="11" text-anchor="start" fill="#000" font-weight="bold" >D</text>
<line x1="44.20" y1="350.40" x2="44.20" y2="463.10" stroke="#000" stroke-width="1.1" />
<line x1="43.80" y1="462.70" x2="130.80" y2="462.70" stroke="#000" stroke-width="1.1" />
<line x1="41.20" y1="462.60" x2="44.20" y2="462.60" stroke="#000" stroke-width="1.0" />
<text x="37.60" y="464.40" font-size="6.1" text-anchor="end" fill="#222" stroke="#222" stroke-width="0.15" textLength="7.6" lengthAdjust="spacingAndGlyphs" >62</text>
<line x1="41.20" y1="447.00" x2="44.20" y2="447.00" stroke="#000" stroke-width="1.0" />
<text x="37.60" y="448.80" font-size="6.1" text-anchor="end" fill="#222" stroke="#222" stroke-width="0.15" textLength="7.6" lengthAdjust="spacingAndGlyphs" >64</text>
<line x1="41.20" y1="431.40" x2="44.20" y2="431.40" stroke="#000" stroke-width="1.0" />
<text x="37.60" y="433.20" font-size="6.1" text-anchor="end" fill="#222" stroke="#222" stroke-width="0.15" textLength="7.6" lengthAdjust="spacingAndGlyphs" >66</text>
<line x1="41.20" y1="415.80" x2="44.20" y2="415.80" stroke="#000" stroke-width="1.0" />
<text x="37.60" y="417.60" font-size="6.1" text-anchor="end" fill="#222" stroke="#222" stroke-width="0.15" textLength="7.6" lengthAdjust="spacingAndGlyphs" >68</text>
<line x1="41.20" y1="400.20" x2="44.20" y2="400.20" stroke="#000" stroke-width="1.0" />
<text x="37.60" y="402.00" font-size="6.1" text-anchor="end" fill="#222" stroke="#222" stroke-width="0.15" textLength="7.6" lengthAdjust="spacingAndGlyphs" >70</text>
<line x1="41.20" y1="384.60" x2="44.20" y2="384.60" stroke="#000" stroke-width="1.0" />
<text x="37.60" y="386.40" font-size="6.1" text-anchor="end" fill="#222" stroke="#222" stroke-width="0.15" textLength="7.6" lengthAdjust="spacingAndGlyphs" >72</text>
<line x1="41.20" y1="369.00" x2="44.20" y2="369.00" stroke="#000" stroke-width="1.0" />
<text x="37.60" y="370.80" font-size="6.1" text-anchor="end" fill="#222" stroke="#222" stroke-width="0.15" textLength="7.6" lengthAdjust="spacingAndGlyphs" >74</text>
<line x1="41.20" y1="353.40" x2="44.20" y2="353.40" stroke="#000" stroke-width="1.0" />
<text x="37.60" y="355.20" font-size="6.1" text-anchor="end" fill="#222" stroke="#222" stroke-width="0.15" textLength="7.6" lengthAdjust="spacingAndGlyphs" >76</text>
<line x1="44.12" y1="462.70" x2="44.12" y2="465.30" stroke="#000" stroke-width="1.0" />
<line x1="53.50" y1="462.70" x2="53.50" y2="465.30" stroke="#000" stroke-width="1.0" />
<line x1="62.88" y1="462.70" x2="62.88" y2="465.30" stroke="#000" stroke-width="1.0" />
<line x1="72.25" y1="462.70" x2="72.25" y2="465.30" stroke="#000" stroke-width="1.0" />
<line x1="81.62" y1="462.70" x2="81.62" y2="465.30" stroke="#000" stroke-width="1.0" />
<line x1="91.00" y1="462.70" x2="91.00" y2="465.30" stroke="#000" stroke-width="1.0" />
<line x1="100.38" y1="462.70" x2="100.38" y2="465.30" stroke="#000" stroke-width="1.0" />
<line x1="109.75" y1="462.70" x2="109.75" y2="465.30" stroke="#000" stroke-width="1.0" />
<line x1="119.12" y1="462.70" x2="119.12" y2="465.30" stroke="#000" stroke-width="1.0" />
<line x1="128.50" y1="462.70" x2="128.50" y2="465.30" stroke="#000" stroke-width="1.0" />
<text x="53.50" y="475.00" font-size="6.1" text-anchor="middle" fill="#222" stroke="#222" stroke-width="0.15" textLength="3.8" lengthAdjust="spacingAndGlyphs" >0</text>
<text x="72.25" y="475.00" font-size="6.1" text-anchor="middle" fill="#222" stroke="#222" stroke-width="0.15" textLength="7.6" lengthAdjust="spacingAndGlyphs" >10</text>
<text x="91.00" y="475.00" font-size="6.1" text-anchor="middle" fill="#222" stroke="#222" stroke-width="0.15" textLength="7.6" lengthAdjust="spacingAndGlyphs" >20</text>
<text x="109.75" y="475.00" font-size="6.1" text-anchor="middle" fill="#222" stroke="#222" stroke-width="0.15" textLength="7.6" lengthAdjust="spacingAndGlyphs" >30</text>
<text x="128.50" y="475.00" font-size="6.1" text-anchor="middle" fill="#222" stroke="#222" stroke-width="0.15" textLength="7.6" lengthAdjust="spacingAndGlyphs" >40</text>
<text x="71.0" y="486.3" font-size="7.6" fill="#111" stroke="#111" stroke-width="0.32" textLength="33.0" lengthAdjust="spacingAndGlyphs">PO<tspan font-size="4.18" dy="1.90">2</tspan><tspan dy="-1.90">(mm Hg)</tspan></text>
<text x="22.20" y="409.14" font-size="7.6" text-anchor="middle" fill="#111" stroke="#111" stroke-width="0.32" textLength="54.9" lengthAdjust="spacingAndGlyphs" transform="rotate(-90 22.20 406.40)" >RBC velocity (mm/s)</text>
<line x1="53.10" y1="367.70" x2="116.90" y2="416.50" stroke="#555" stroke-width="0.8" />
<line x1="53.50" y1="400.80" x2="118.50" y2="450.50" stroke="#555" stroke-width="0.8" />
<circle cx="53.1" cy="367.7" r="4.2" fill="#fff" fill-opacity="0.7" stroke="#3c4150" stroke-width="0.8"/>
<line x1="53.10" y1="365.90" x2="53.10" y2="369.50" stroke="#3c4150" stroke-width="0.5" />
<line x1="52.10" y1="365.90" x2="54.10" y2="365.90" stroke="#3c4150" stroke-width="0.5" />
<line x1="52.10" y1="369.50" x2="54.10" y2="369.50" stroke="#3c4150" stroke-width="0.5" />
<circle cx="75.2" cy="385.8" r="4.2" fill="#fff" fill-opacity="0.7" stroke="#3c4150" stroke-width="0.8"/>
<line x1="75.20" y1="384.00" x2="75.20" y2="387.60" stroke="#3c4150" stroke-width="0.5" />
<line x1="74.20" y1="384.00" x2="76.20" y2="384.00" stroke="#3c4150" stroke-width="0.5" />
<line x1="74.20" y1="387.60" x2="76.20" y2="387.60" stroke="#3c4150" stroke-width="0.5" />
<circle cx="101.2" cy="404.6" r="4.2" fill="#fff" fill-opacity="0.7" stroke="#3c4150" stroke-width="0.8"/>
<line x1="101.20" y1="402.80" x2="101.20" y2="406.40" stroke="#3c4150" stroke-width="0.5" />
<line x1="100.20" y1="402.80" x2="102.20" y2="402.80" stroke="#3c4150" stroke-width="0.5" />
<line x1="100.20" y1="406.40" x2="102.20" y2="406.40" stroke="#3c4150" stroke-width="0.5" />
<circle cx="116.9" cy="416.5" r="4.2" fill="#fff" fill-opacity="0.7" stroke="#3c4150" stroke-width="0.8"/>
<line x1="116.90" y1="414.70" x2="116.90" y2="418.30" stroke="#3c4150" stroke-width="0.5" />
<line x1="115.90" y1="414.70" x2="117.90" y2="414.70" stroke="#3c4150" stroke-width="0.5" />
<line x1="115.90" y1="418.30" x2="117.90" y2="418.30" stroke="#3c4150" stroke-width="0.5" />
<path d="M53.50 400.56L57.70 407.91L49.30 407.91Z" fill="#fff" stroke="#3c4150" stroke-width="0.8" stroke-linejoin="miter"/>
<line x1="53.50" y1="403.10" x2="53.50" y2="406.10" stroke="#3c4150" stroke-width="0.5" />
<line x1="52.50" y1="403.10" x2="54.50" y2="403.10" stroke="#3c4150" stroke-width="0.5" />
<line x1="52.50" y1="406.10" x2="54.50" y2="406.10" stroke="#3c4150" stroke-width="0.5" />
<path d="M75.60 403.46L79.80 410.81L71.40 410.81Z" fill="#fff" stroke="#3c4150" stroke-width="0.8" stroke-linejoin="miter"/>
<line x1="75.60" y1="406.00" x2="75.60" y2="409.00" stroke="#3c4150" stroke-width="0.5" />
<line x1="74.60" y1="406.00" x2="76.60" y2="406.00" stroke="#3c4150" stroke-width="0.5" />
<line x1="74.60" y1="409.00" x2="76.60" y2="409.00" stroke="#3c4150" stroke-width="0.5" />
<path d="M101.00 435.26L105.20 442.61L96.80 442.61Z" fill="#fff" stroke="#3c4150" stroke-width="0.8" stroke-linejoin="miter"/>
<line x1="101.00" y1="437.80" x2="101.00" y2="440.80" stroke="#3c4150" stroke-width="0.5" />
<line x1="100.00" y1="437.80" x2="102.00" y2="437.80" stroke="#3c4150" stroke-width="0.5" />
<line x1="100.00" y1="440.80" x2="102.00" y2="440.80" stroke="#3c4150" stroke-width="0.5" />
<path d="M116.90 445.46L121.10 452.81L112.70 452.81Z" fill="#fff" stroke="#3c4150" stroke-width="0.8" stroke-linejoin="miter"/>
<line x1="116.90" y1="448.00" x2="116.90" y2="451.00" stroke="#3c4150" stroke-width="0.5" />
<line x1="115.90" y1="448.00" x2="117.90" y2="448.00" stroke="#3c4150" stroke-width="0.5" />
<line x1="115.90" y1="451.00" x2="117.90" y2="451.00" stroke="#3c4150" stroke-width="0.5" />
<rect x="50.08" y="355.20" width="1.6" height="1.6" fill="#222"/>
<rect x="52.43" y="355.20" width="1.6" height="1.6" fill="#222"/>
<rect x="54.78" y="355.20" width="1.6" height="1.6" fill="#222"/>
<rect x="57.12" y="355.20" width="1.6" height="1.6" fill="#222"/>
<rect x="70.88" y="375.00" width="1.6" height="1.6" fill="#222"/>
<rect x="73.22" y="375.00" width="1.6" height="1.6" fill="#222"/>
<rect x="75.58" y="375.00" width="1.6" height="1.6" fill="#222"/>
<rect x="77.92" y="375.00" width="1.6" height="1.6" fill="#222"/>
<rect x="96.88" y="395.20" width="1.6" height="1.6" fill="#222"/>
<rect x="99.22" y="395.20" width="1.6" height="1.6" fill="#222"/>
<rect x="101.58" y="395.20" width="1.6" height="1.6" fill="#222"/>
<rect x="103.92" y="395.20" width="1.6" height="1.6" fill="#222"/>
<rect x="112.58" y="406.30" width="1.6" height="1.6" fill="#222"/>
<rect x="114.92" y="406.30" width="1.6" height="1.6" fill="#222"/>
<rect x="117.28" y="406.30" width="1.6" height="1.6" fill="#222"/>
<rect x="119.62" y="406.30" width="1.6" height="1.6" fill="#222"/>
<text x="47.70" y="397.49" font-size="5.8" text-anchor="start" fill="#222" stroke="#222" stroke-width="0.13" textLength="33.6" lengthAdjust="spacingAndGlyphs" >Slope = &#8722;0.18</text>
<text x="47.70" y="430.19" font-size="5.8" text-anchor="start" fill="#222" stroke="#222" stroke-width="0.13" textLength="33.6" lengthAdjust="spacingAndGlyphs" >Slope = &#8722;0.18</text>
<path d="M98.90 356.76L100.60 359.74L97.20 359.74Z" fill="none" stroke="#3c4150" stroke-width="0.7" stroke-linejoin="miter"/>
<text x="103.50" y="360.48" font-size="6.6" text-anchor="start" fill="#222" stroke="#222" stroke-width="0.13" textLength="25.3" lengthAdjust="spacingAndGlyphs" >HC-Male</text>
<circle cx="98.90" cy="367.70" r="1.45" fill="none" stroke="#3c4150" stroke-width="0.7"/>
<text x="103.50" y="370.08" font-size="6.6" text-anchor="start" fill="#222" stroke="#222" stroke-width="0.13" textLength="31.7" lengthAdjust="spacingAndGlyphs" >HC-Female</text>
<line x1="182.50" y1="361.40" x2="182.50" y2="462.80" stroke="#000" stroke-width="1.1" />
<line x1="182.10" y1="462.40" x2="244.30" y2="462.40" stroke="#000" stroke-width="1.1" />
<line x1="179.50" y1="372.40" x2="182.50" y2="372.40" stroke="#000" stroke-width="1.0" />
<text x="176.20" y="374.16" font-size="6.0" text-anchor="end" fill="#222" stroke="#222" stroke-width="0.15" textLength="9.34" lengthAdjust="spacingAndGlyphs" >0.3</text>
<line x1="179.50" y1="395.00" x2="182.50" y2="395.00" stroke="#000" stroke-width="1.0" />
<text x="176.20" y="396.76" font-size="6.0" text-anchor="end" fill="#222" stroke="#222" stroke-width="0.15" textLength="9.34" lengthAdjust="spacingAndGlyphs" >0.1</text>
<line x1="179.50" y1="417.60" x2="182.50" y2="417.60" stroke="#000" stroke-width="1.0" />
<text x="176.20" y="419.36" font-size="6.0" text-anchor="end" fill="#222" stroke="#222" stroke-width="0.15" textLength="13.27" lengthAdjust="spacingAndGlyphs" >&#8722;0.1</text>
<line x1="179.50" y1="440.20" x2="182.50" y2="440.20" stroke="#000" stroke-width="1.0" />
<text x="176.20" y="441.96" font-size="6.0" text-anchor="end" fill="#222" stroke="#222" stroke-width="0.15" textLength="13.27" lengthAdjust="spacingAndGlyphs" >&#8722;0.3</text>
<line x1="179.50" y1="462.80" x2="182.50" y2="462.80" stroke="#000" stroke-width="1.0" />
<text x="176.20" y="464.56" font-size="6.0" text-anchor="end" fill="#222" stroke="#222" stroke-width="0.15" textLength="13.27" lengthAdjust="spacingAndGlyphs" >&#8722;0.5</text>
<line x1="201.30" y1="462.40" x2="201.30" y2="465.60" stroke="#000" stroke-width="1.0" />
<line x1="230.50" y1="462.40" x2="230.50" y2="465.60" stroke="#000" stroke-width="1.0" />
<text x="154.80" y="415.66" font-size="7.4" text-anchor="middle" fill="#111" stroke="#111" stroke-width="0.32" textLength="86.5" lengthAdjust="spacingAndGlyphs" transform="rotate(-90 154.80 413.00)" >Calculated slope (mm/s/mm Hg)</text>
<text x="201.60" y="471.88" font-size="6.6" text-anchor="end" fill="#222" stroke="#222" stroke-width="0.13" textLength="25" lengthAdjust="spacingAndGlyphs" transform="rotate(-45 201.60 469.50)" >HC-Male</text>
<text x="231.20" y="471.98" font-size="6.6" text-anchor="end" fill="#222" stroke="#222" stroke-width="0.13" textLength="32" lengthAdjust="spacingAndGlyphs" transform="rotate(-45 231.20 469.60)" >HC-Female</text>
<path d="M194.80 405.71L197.70 410.78L191.90 410.78Z" fill="none" stroke="#555" stroke-width="0.7" stroke-linejoin="miter"/>
<path d="M201.70 408.51L204.60 413.58L198.80 413.58Z" fill="none" stroke="#555" stroke-width="0.7" stroke-linejoin="miter"/>
<path d="M194.80 416.41L197.70 421.48L191.90 421.48Z" fill="none" stroke="#555" stroke-width="0.7" stroke-linejoin="miter"/>
<path d="M201.70 418.11L204.60 423.18L198.80 423.18Z" fill="none" stroke="#555" stroke-width="0.7" stroke-linejoin="miter"/>
<path d="M202.00 428.11L204.90 433.18L199.10 433.18Z" fill="none" stroke="#555" stroke-width="0.7" stroke-linejoin="miter"/>
<path d="M194.80 434.01L197.70 439.08L191.90 439.08Z" fill="none" stroke="#555" stroke-width="0.7" stroke-linejoin="miter"/>
<path d="M201.70 435.41L204.60 440.48L198.80 440.48Z" fill="none" stroke="#555" stroke-width="0.7" stroke-linejoin="miter"/>
<path d="M208.80 437.31L211.70 442.38L205.90 442.38Z" fill="none" stroke="#555" stroke-width="0.7" stroke-linejoin="miter"/>
<path d="M194.80 441.81L197.70 446.88L191.90 446.88Z" fill="none" stroke="#555" stroke-width="0.7" stroke-linejoin="miter"/>
<path d="M198.50 429.01L201.40 434.08L195.60 434.08Z" fill="none" stroke="#555" stroke-width="0.7" stroke-linejoin="miter"/>
<line x1="192.40" y1="427.40" x2="211.60" y2="427.40" stroke="#111" stroke-width="0.95" />
<line x1="201.90" y1="422.60" x2="201.90" y2="432.30" stroke="#111" stroke-width="0.7" />
<line x1="198.70" y1="422.60" x2="205.10" y2="422.60" stroke="#111" stroke-width="0.7" />
<line x1="198.70" y1="432.30" x2="205.10" y2="432.30" stroke="#111" stroke-width="0.7" />
<circle cx="227.40" cy="410.70" r="2.5" fill="none" stroke="#555" stroke-width="0.7"/>
<circle cx="234.60" cy="413.70" r="2.5" fill="none" stroke="#555" stroke-width="0.7"/>
<circle cx="230.80" cy="416.20" r="2.5" fill="none" stroke="#555" stroke-width="0.7"/>
<circle cx="226.90" cy="422.00" r="2.5" fill="none" stroke="#555" stroke-width="0.7"/>
<circle cx="223.60" cy="425.10" r="2.5" fill="none" stroke="#555" stroke-width="0.7"/>
<circle cx="237.60" cy="424.70" r="2.5" fill="none" stroke="#555" stroke-width="0.7"/>
<circle cx="230.80" cy="424.70" r="2.5" fill="none" stroke="#555" stroke-width="0.7"/>
<circle cx="227.20" cy="426.50" r="2.5" fill="none" stroke="#555" stroke-width="0.7"/>
<circle cx="234.20" cy="427.40" r="2.5" fill="none" stroke="#555" stroke-width="0.7"/>
<circle cx="234.20" cy="431.30" r="2.5" fill="none" stroke="#555" stroke-width="0.7"/>
<circle cx="230.80" cy="432.90" r="2.5" fill="none" stroke="#555" stroke-width="0.7"/>
<circle cx="228.70" cy="439.80" r="2.5" fill="none" stroke="#555" stroke-width="0.7"/>
<circle cx="232.80" cy="439.80" r="2.5" fill="none" stroke="#555" stroke-width="0.7"/>
<circle cx="230.80" cy="446.00" r="2.5" fill="none" stroke="#555" stroke-width="0.7"/>
<line x1="221.20" y1="426.10" x2="240.40" y2="426.10" stroke="#111" stroke-width="0.95" />
<line x1="230.80" y1="423.80" x2="230.80" y2="428.60" stroke="#111" stroke-width="0.7" />
<line x1="227.80" y1="423.80" x2="233.80" y2="423.80" stroke="#111" stroke-width="0.7" />
<line x1="227.80" y1="428.60" x2="233.80" y2="428.60" stroke="#111" stroke-width="0.7" />
<path d="M206.8 456.1 L206.8 457.6 L225.3 457.6 L225.3 456.1" fill="none" stroke="#444" stroke-width="0.7"/>
<text x="216.20" y="454.83" font-size="6.2" text-anchor="middle" fill="#222" stroke="#222" stroke-width="0.13" >ns</text>
<text x="270.40" y="336.36" font-size="11" text-anchor="start" fill="#000" font-weight="bold" >E</text>
<line x1="307.20" y1="350.10" x2="307.20" y2="462.70" stroke="#000" stroke-width="1.1" />
<line x1="306.80" y1="462.50" x2="394.10" y2="462.50" stroke="#000" stroke-width="1.1" />
<line x1="304.20" y1="462.58" x2="307.20" y2="462.58" stroke="#000" stroke-width="1.0" />
<text x="300.60" y="464.38" font-size="6.1" text-anchor="end" fill="#222" stroke="#222" stroke-width="0.15" textLength="7.6" lengthAdjust="spacingAndGlyphs" >62</text>
<line x1="304.20" y1="446.94" x2="307.20" y2="446.94" stroke="#000" stroke-width="1.0" />
<text x="300.60" y="448.74" font-size="6.1" text-anchor="end" fill="#222" stroke="#222" stroke-width="0.15" textLength="7.6" lengthAdjust="spacingAndGlyphs" >64</text>
<line x1="304.20" y1="431.30" x2="307.20" y2="431.30" stroke="#000" stroke-width="1.0" />
<text x="300.60" y="433.10" font-size="6.1" text-anchor="end" fill="#222" stroke="#222" stroke-width="0.15" textLength="7.6" lengthAdjust="spacingAndGlyphs" >66</text>
<line x1="304.20" y1="415.66" x2="307.20" y2="415.66" stroke="#000" stroke-width="1.0" />
<text x="300.60" y="417.46" font-size="6.1" text-anchor="end" fill="#222" stroke="#222" stroke-width="0.15" textLength="7.6" lengthAdjust="spacingAndGlyphs" >68</text>
<line x1="304.20" y1="400.02" x2="307.20" y2="400.02" stroke="#000" stroke-width="1.0" />
<text x="300.60" y="401.82" font-size="6.1" text-anchor="end" fill="#222" stroke="#222" stroke-width="0.15" textLength="7.6" lengthAdjust="spacingAndGlyphs" >70</text>
<line x1="304.20" y1="384.38" x2="307.20" y2="384.38" stroke="#000" stroke-width="1.0" />
<text x="300.60" y="386.18" font-size="6.1" text-anchor="end" fill="#222" stroke="#222" stroke-width="0.15" textLength="7.6" lengthAdjust="spacingAndGlyphs" >72</text>
<line x1="304.20" y1="368.74" x2="307.20" y2="368.74" stroke="#000" stroke-width="1.0" />
<text x="300.60" y="370.54" font-size="6.1" text-anchor="end" fill="#222" stroke="#222" stroke-width="0.15" textLength="7.6" lengthAdjust="spacingAndGlyphs" >74</text>
<line x1="304.20" y1="353.10" x2="307.20" y2="353.10" stroke="#000" stroke-width="1.0" />
<text x="300.60" y="354.90" font-size="6.1" text-anchor="end" fill="#222" stroke="#222" stroke-width="0.15" textLength="7.6" lengthAdjust="spacingAndGlyphs" >76</text>
<line x1="307.35" y1="462.30" x2="307.35" y2="464.90" stroke="#000" stroke-width="1.0" />
<line x1="316.60" y1="462.30" x2="316.60" y2="464.90" stroke="#000" stroke-width="1.0" />
<line x1="325.85" y1="462.30" x2="325.85" y2="464.90" stroke="#000" stroke-width="1.0" />
<line x1="335.10" y1="462.30" x2="335.10" y2="464.90" stroke="#000" stroke-width="1.0" />
<line x1="344.35" y1="462.30" x2="344.35" y2="464.90" stroke="#000" stroke-width="1.0" />
<line x1="353.60" y1="462.30" x2="353.60" y2="464.90" stroke="#000" stroke-width="1.0" />
<line x1="362.85" y1="462.30" x2="362.85" y2="464.90" stroke="#000" stroke-width="1.0" />
<line x1="372.10" y1="462.30" x2="372.10" y2="464.90" stroke="#000" stroke-width="1.0" />
<line x1="381.35" y1="462.30" x2="381.35" y2="464.90" stroke="#000" stroke-width="1.0" />
<line x1="390.60" y1="462.30" x2="390.60" y2="464.90" stroke="#000" stroke-width="1.0" />
<text x="316.60" y="475.00" font-size="6.1" text-anchor="middle" fill="#222" stroke="#222" stroke-width="0.15" textLength="3.8" lengthAdjust="spacingAndGlyphs" >0</text>
<text x="335.10" y="475.00" font-size="6.1" text-anchor="middle" fill="#222" stroke="#222" stroke-width="0.15" textLength="7.6" lengthAdjust="spacingAndGlyphs" >10</text>
<text x="353.60" y="475.00" font-size="6.1" text-anchor="middle" fill="#222" stroke="#222" stroke-width="0.15" textLength="7.6" lengthAdjust="spacingAndGlyphs" >20</text>
<text x="372.10" y="475.00" font-size="6.1" text-anchor="middle" fill="#222" stroke="#222" stroke-width="0.15" textLength="7.6" lengthAdjust="spacingAndGlyphs" >30</text>
<text x="390.60" y="475.00" font-size="6.1" text-anchor="middle" fill="#222" stroke="#222" stroke-width="0.15" textLength="7.6" lengthAdjust="spacingAndGlyphs" >40</text>
<text x="334.2" y="486.8" font-size="7.6" fill="#111" stroke="#111" stroke-width="0.32" textLength="32.9" lengthAdjust="spacingAndGlyphs">PO<tspan font-size="4.18" dy="1.90">2</tspan><tspan dy="-1.90">(mm Hg)</tspan></text>
<text x="284.50" y="409.24" font-size="7.6" text-anchor="middle" fill="#111" stroke="#111" stroke-width="0.32" textLength="54.5" lengthAdjust="spacingAndGlyphs" transform="rotate(-90 284.50 406.50)" >RBC velocity (mm/s)</text>
<line x1="315.90" y1="398.40" x2="381.50" y2="417.00" stroke="#5cb85c" stroke-width="0.9" />
<line x1="315.90" y1="430.70" x2="383.30" y2="440.50" stroke="#5cb85c" stroke-width="0.9" />
<circle cx="315.9" cy="398.4" r="3.7" fill="#fff" fill-opacity="0.7" stroke="#3fa33f" stroke-width="0.8"/>
<line x1="315.90" y1="396.70" x2="315.90" y2="400.10" stroke="#3fa33f" stroke-width="0.5" />
<line x1="314.90" y1="396.70" x2="316.90" y2="396.70" stroke="#3fa33f" stroke-width="0.5" />
<line x1="314.90" y1="400.10" x2="316.90" y2="400.10" stroke="#3fa33f" stroke-width="0.5" />
<circle cx="338.0" cy="406.7" r="3.7" fill="#fff" fill-opacity="0.7" stroke="#3fa33f" stroke-width="0.8"/>
<line x1="338.00" y1="405.00" x2="338.00" y2="408.40" stroke="#3fa33f" stroke-width="0.5" />
<line x1="337.00" y1="405.00" x2="339.00" y2="405.00" stroke="#3fa33f" stroke-width="0.5" />
<line x1="337.00" y1="408.40" x2="339.00" y2="408.40" stroke="#3fa33f" stroke-width="0.5" />
<circle cx="364.2" cy="411.6" r="3.7" fill="#fff" fill-opacity="0.7" stroke="#3fa33f" stroke-width="0.8"/>
<line x1="364.20" y1="409.90" x2="364.20" y2="413.30" stroke="#3fa33f" stroke-width="0.5" />
<line x1="363.20" y1="409.90" x2="365.20" y2="409.90" stroke="#3fa33f" stroke-width="0.5" />
<line x1="363.20" y1="413.30" x2="365.20" y2="413.30" stroke="#3fa33f" stroke-width="0.5" />
<circle cx="379.6" cy="416.5" r="3.7" fill="#fff" fill-opacity="0.7" stroke="#3fa33f" stroke-width="0.8"/>
<line x1="379.60" y1="414.80" x2="379.60" y2="418.20" stroke="#3fa33f" stroke-width="0.5" />
<line x1="378.60" y1="414.80" x2="380.60" y2="414.80" stroke="#3fa33f" stroke-width="0.5" />
<line x1="378.60" y1="418.20" x2="380.60" y2="418.20" stroke="#3fa33f" stroke-width="0.5" />
<path d="M316.70 425.65L320.70 432.65L312.70 432.65Z" fill="#fff" stroke="#3fa33f" stroke-width="0.8" stroke-linejoin="miter"/>
<line x1="316.70" y1="428.00" x2="316.70" y2="431.00" stroke="#3fa33f" stroke-width="0.5" />
<line x1="315.70" y1="428.00" x2="317.70" y2="428.00" stroke="#3fa33f" stroke-width="0.5" />
<line x1="315.70" y1="431.00" x2="317.70" y2="431.00" stroke="#3fa33f" stroke-width="0.5" />
<path d="M338.00 431.25L342.00 438.25L334.00 438.25Z" fill="#fff" stroke="#3fa33f" stroke-width="0.8" stroke-linejoin="miter"/>
<line x1="338.00" y1="433.60" x2="338.00" y2="436.60" stroke="#3fa33f" stroke-width="0.5" />
<line x1="337.00" y1="433.60" x2="339.00" y2="433.60" stroke="#3fa33f" stroke-width="0.5" />
<line x1="337.00" y1="436.60" x2="339.00" y2="436.60" stroke="#3fa33f" stroke-width="0.5" />
<path d="M364.20 442.05L368.20 449.05L360.20 449.05Z" fill="#fff" stroke="#3fa33f" stroke-width="0.8" stroke-linejoin="miter"/>
<line x1="364.20" y1="444.40" x2="364.20" y2="447.40" stroke="#3fa33f" stroke-width="0.5" />
<line x1="363.20" y1="444.40" x2="365.20" y2="444.40" stroke="#3fa33f" stroke-width="0.5" />
<line x1="363.20" y1="447.40" x2="365.20" y2="447.40" stroke="#3fa33f" stroke-width="0.5" />
<path d="M379.60 433.75L383.60 440.75L375.60 440.75Z" fill="#fff" stroke="#3fa33f" stroke-width="0.8" stroke-linejoin="miter"/>
<line x1="379.60" y1="436.10" x2="379.60" y2="439.10" stroke="#3fa33f" stroke-width="0.5" />
<line x1="378.60" y1="436.10" x2="380.60" y2="436.10" stroke="#3fa33f" stroke-width="0.5" />
<line x1="378.60" y1="439.10" x2="380.60" y2="439.10" stroke="#3fa33f" stroke-width="0.5" />
<rect x="312.38" y="389.00" width="1.6" height="1.6" fill="#222"/>
<rect x="314.73" y="389.00" width="1.6" height="1.6" fill="#222"/>
<rect x="317.07" y="389.00" width="1.6" height="1.6" fill="#222"/>
<rect x="319.43" y="389.00" width="1.6" height="1.6" fill="#222"/>
<rect x="333.68" y="396.90" width="1.6" height="1.6" fill="#222"/>
<rect x="336.03" y="396.90" width="1.6" height="1.6" fill="#222"/>
<rect x="338.38" y="396.90" width="1.6" height="1.6" fill="#222"/>
<rect x="340.73" y="396.90" width="1.6" height="1.6" fill="#222"/>
<rect x="359.88" y="402.20" width="1.6" height="1.6" fill="#222"/>
<rect x="362.23" y="402.20" width="1.6" height="1.6" fill="#222"/>
<rect x="364.57" y="402.20" width="1.6" height="1.6" fill="#222"/>
<rect x="366.93" y="402.20" width="1.6" height="1.6" fill="#222"/>
<rect x="376.45" y="407.40" width="1.6" height="1.6" fill="#222"/>
<rect x="378.80" y="407.40" width="1.6" height="1.6" fill="#222"/>
<rect x="381.15" y="407.40" width="1.6" height="1.6" fill="#222"/>
<text x="311.00" y="417.59" font-size="5.8" text-anchor="start" fill="#222" stroke="#222" stroke-width="0.13" textLength="33" lengthAdjust="spacingAndGlyphs" >Slope = &#8722;0.06</text>
<text x="311.00" y="444.59" font-size="5.8" text-anchor="start" fill="#222" stroke="#222" stroke-width="0.13" textLength="33" lengthAdjust="spacingAndGlyphs" >Slope = &#8722;0.04</text>
<path d="M347.80 355.86L349.50 358.84L346.10 358.84Z" fill="none" stroke="#555" stroke-width="0.7" stroke-linejoin="miter"/>
<text x="352.70" y="359.58" font-size="6.6" text-anchor="start" fill="#222" stroke="#222" stroke-width="0.13" textLength="39.1" lengthAdjust="spacingAndGlyphs" >ME/CFS-Male</text>
<circle cx="347.80" cy="367.50" r="1.45" fill="none" stroke="#555" stroke-width="0.7"/>
<text x="352.70" y="369.88" font-size="6.6" text-anchor="start" fill="#222" stroke="#222" stroke-width="0.13" textLength="45.3" lengthAdjust="spacingAndGlyphs" >ME/CFS-Female</text>
<line x1="445.60" y1="361.80" x2="445.60" y2="462.80" stroke="#000" stroke-width="1.1" />
<line x1="445.20" y1="462.40" x2="513.70" y2="462.40" stroke="#000" stroke-width="1.1" />
<line x1="442.60" y1="372.40" x2="445.60" y2="372.40" stroke="#000" stroke-width="1.0" />
<text x="439.30" y="374.16" font-size="6.0" text-anchor="end" fill="#222" stroke="#222" stroke-width="0.15" textLength="9.34" lengthAdjust="spacingAndGlyphs" >0.3</text>
<line x1="442.60" y1="395.00" x2="445.60" y2="395.00" stroke="#000" stroke-width="1.0" />
<text x="439.30" y="396.76" font-size="6.0" text-anchor="end" fill="#222" stroke="#222" stroke-width="0.15" textLength="9.34" lengthAdjust="spacingAndGlyphs" >0.1</text>
<line x1="442.60" y1="417.60" x2="445.60" y2="417.60" stroke="#000" stroke-width="1.0" />
<text x="439.30" y="419.36" font-size="6.0" text-anchor="end" fill="#222" stroke="#222" stroke-width="0.15" textLength="13.27" lengthAdjust="spacingAndGlyphs" >&#8722;0.1</text>
<line x1="442.60" y1="440.20" x2="445.60" y2="440.20" stroke="#000" stroke-width="1.0" />
<text x="439.30" y="441.96" font-size="6.0" text-anchor="end" fill="#222" stroke="#222" stroke-width="0.15" textLength="13.27" lengthAdjust="spacingAndGlyphs" >&#8722;0.3</text>
<line x1="442.60" y1="462.80" x2="445.60" y2="462.80" stroke="#000" stroke-width="1.0" />
<text x="439.30" y="464.56" font-size="6.0" text-anchor="end" fill="#222" stroke="#222" stroke-width="0.15" textLength="13.27" lengthAdjust="spacingAndGlyphs" >&#8722;0.5</text>
<line x1="464.60" y1="462.40" x2="464.60" y2="465.60" stroke="#000" stroke-width="1.0" />
<line x1="493.60" y1="462.40" x2="493.60" y2="465.60" stroke="#000" stroke-width="1.0" />
<text x="418.80" y="414.96" font-size="7.4" text-anchor="middle" fill="#111" stroke="#111" stroke-width="0.32" textLength="85.2" lengthAdjust="spacingAndGlyphs" transform="rotate(-90 418.80 412.30)" >Calculated slope (mm/s/mm Hg)</text>
<text x="465.30" y="471.68" font-size="6.6" text-anchor="end" fill="#222" stroke="#222" stroke-width="0.13" textLength="39.5" lengthAdjust="spacingAndGlyphs" transform="rotate(-45 465.30 469.30)" >ME/CFS-Male</text>
<text x="493.60" y="471.88" font-size="6.6" text-anchor="end" fill="#222" stroke="#222" stroke-width="0.13" textLength="44.5" lengthAdjust="spacingAndGlyphs" transform="rotate(-45 493.60 469.50)" >ME/CFS-Female</text>
<path d="M464.70 387.81L467.60 392.88L461.80 392.88Z" fill="none" stroke="#3fa33f" stroke-width="0.7" stroke-linejoin="miter"/>
<path d="M458.00 396.81L460.90 401.88L455.10 401.88Z" fill="none" stroke="#3fa33f" stroke-width="0.7" stroke-linejoin="miter"/>
<path d="M464.70 395.51L467.60 400.58L461.80 400.58Z" fill="none" stroke="#3fa33f" stroke-width="0.7" stroke-linejoin="miter"/>
<path d="M472.10 394.61L475.00 399.68L469.20 399.68Z" fill="none" stroke="#3fa33f" stroke-width="0.7" stroke-linejoin="miter"/>
<path d="M456.80 402.91L459.70 407.98L453.90 407.98Z" fill="none" stroke="#3fa33f" stroke-width="0.7" stroke-linejoin="miter"/>
<path d="M457.30 408.51L460.20 413.58L454.40 413.58Z" fill="none" stroke="#3fa33f" stroke-width="0.7" stroke-linejoin="miter"/>
<path d="M472.10 406.31L475.00 411.38L469.20 411.38Z" fill="none" stroke="#3fa33f" stroke-width="0.7" stroke-linejoin="miter"/>
<path d="M464.70 405.71L467.60 410.78L461.80 410.78Z" fill="none" stroke="#3fa33f" stroke-width="0.7" stroke-linejoin="miter"/>
<path d="M472.10 413.51L475.00 418.58L469.20 418.58Z" fill="none" stroke="#3fa33f" stroke-width="0.7" stroke-linejoin="miter"/>
<path d="M464.70 415.31L467.60 420.38L461.80 420.38Z" fill="none" stroke="#3fa33f" stroke-width="0.7" stroke-linejoin="miter"/>
<path d="M468.50 420.91L471.40 425.98L465.60 425.98Z" fill="none" stroke="#3fa33f" stroke-width="0.7" stroke-linejoin="miter"/>
<path d="M461.30 424.31L464.20 429.38L458.40 429.38Z" fill="none" stroke="#3fa33f" stroke-width="0.7" stroke-linejoin="miter"/>
<line x1="455.00" y1="410.20" x2="474.90" y2="410.20" stroke="#111" stroke-width="0.95" />
<line x1="464.80" y1="407.30" x2="464.80" y2="414.00" stroke="#111" stroke-width="0.7" />
<line x1="461.60" y1="407.30" x2="468.00" y2="407.30" stroke="#111" stroke-width="0.7" />
<line x1="461.60" y1="414.00" x2="468.00" y2="414.00" stroke="#111" stroke-width="0.7" />
<circle cx="494.00" cy="374.80" r="2.5" fill="none" stroke="#3fa33f" stroke-width="0.7"/>
<circle cx="494.00" cy="391.00" r="2.5" fill="none" stroke="#3fa33f" stroke-width="0.7"/>
<circle cx="491.80" cy="397.80" r="2.5" fill="none" stroke="#3fa33f" stroke-width="0.7"/>
<circle cx="496.90" cy="400.10" r="2.5" fill="none" stroke="#3fa33f" stroke-width="0.7"/>
<circle cx="489.50" cy="398.50" r="2.5" fill="none" stroke="#3fa33f" stroke-width="0.7"/>
<circle cx="492.40" cy="403.40" r="2.5" fill="none" stroke="#3fa33f" stroke-width="0.7"/>
<circle cx="497.40" cy="408.00" r="2.5" fill="none" stroke="#3fa33f" stroke-width="0.7"/>
<circle cx="489.00" cy="407.50" r="2.5" fill="none" stroke="#3fa33f" stroke-width="0.7"/>
<circle cx="486.10" cy="413.10" r="2.5" fill="none" stroke="#3fa33f" stroke-width="0.7"/>
<circle cx="501.90" cy="414.00" r="2.5" fill="none" stroke="#3fa33f" stroke-width="0.7"/>
<circle cx="494.00" cy="412.50" r="2.5" fill="none" stroke="#3fa33f" stroke-width="0.7"/>
<circle cx="488.40" cy="418.10" r="2.5" fill="none" stroke="#3fa33f" stroke-width="0.7"/>
<circle cx="494.00" cy="420.30" r="2.5" fill="none" stroke="#3fa33f" stroke-width="0.7"/>
<circle cx="499.60" cy="422.60" r="2.5" fill="none" stroke="#3fa33f" stroke-width="0.7"/>
<circle cx="486.10" cy="421.50" r="2.5" fill="none" stroke="#3fa33f" stroke-width="0.7"/>
<circle cx="494.00" cy="423.70" r="2.5" fill="none" stroke="#3fa33f" stroke-width="0.7"/>
<circle cx="500.80" cy="421.50" r="2.5" fill="none" stroke="#3fa33f" stroke-width="0.7"/>
<circle cx="494.00" cy="431.60" r="2.5" fill="none" stroke="#3fa33f" stroke-width="0.7"/>
<circle cx="494.00" cy="438.80" r="2.5" fill="none" stroke="#3fa33f" stroke-width="0.7"/>
<circle cx="490.50" cy="416.50" r="2.5" fill="none" stroke="#3fa33f" stroke-width="0.7"/>
<line x1="485.00" y1="413.10" x2="503.00" y2="413.10" stroke="#111" stroke-width="0.95" />
<line x1="494.00" y1="410.80" x2="494.00" y2="415.60" stroke="#111" stroke-width="0.7" />
<line x1="491.00" y1="410.80" x2="497.00" y2="410.80" stroke="#111" stroke-width="0.7" />
<line x1="491.00" y1="415.60" x2="497.00" y2="415.60" stroke="#111" stroke-width="0.7" />
<path d="M476.7 452.2 L476.7 453.7 L495.6 453.7 L495.6 452.2" fill="none" stroke="#444" stroke-width="0.7"/>
<text x="485.70" y="451.43" font-size="6.2" text-anchor="middle" fill="#222" stroke="#222" stroke-width="0.13" >ns</text>
</svg>
<svg class="ov" width="520" height="510" viewBox="0 0 520 510"><rect x="0" y="0" width="520" height="1.1" fill="#555"/><rect x="0" y="0" width="1.2" height="510" fill="#5a5a5a"/><rect x="518.7" y="0" width="1.3" height="510" fill="#474747"/><rect x="0" y="508.5" width="520" height="1.5" fill="#3e3e3e"/></svg>
</body></html>
